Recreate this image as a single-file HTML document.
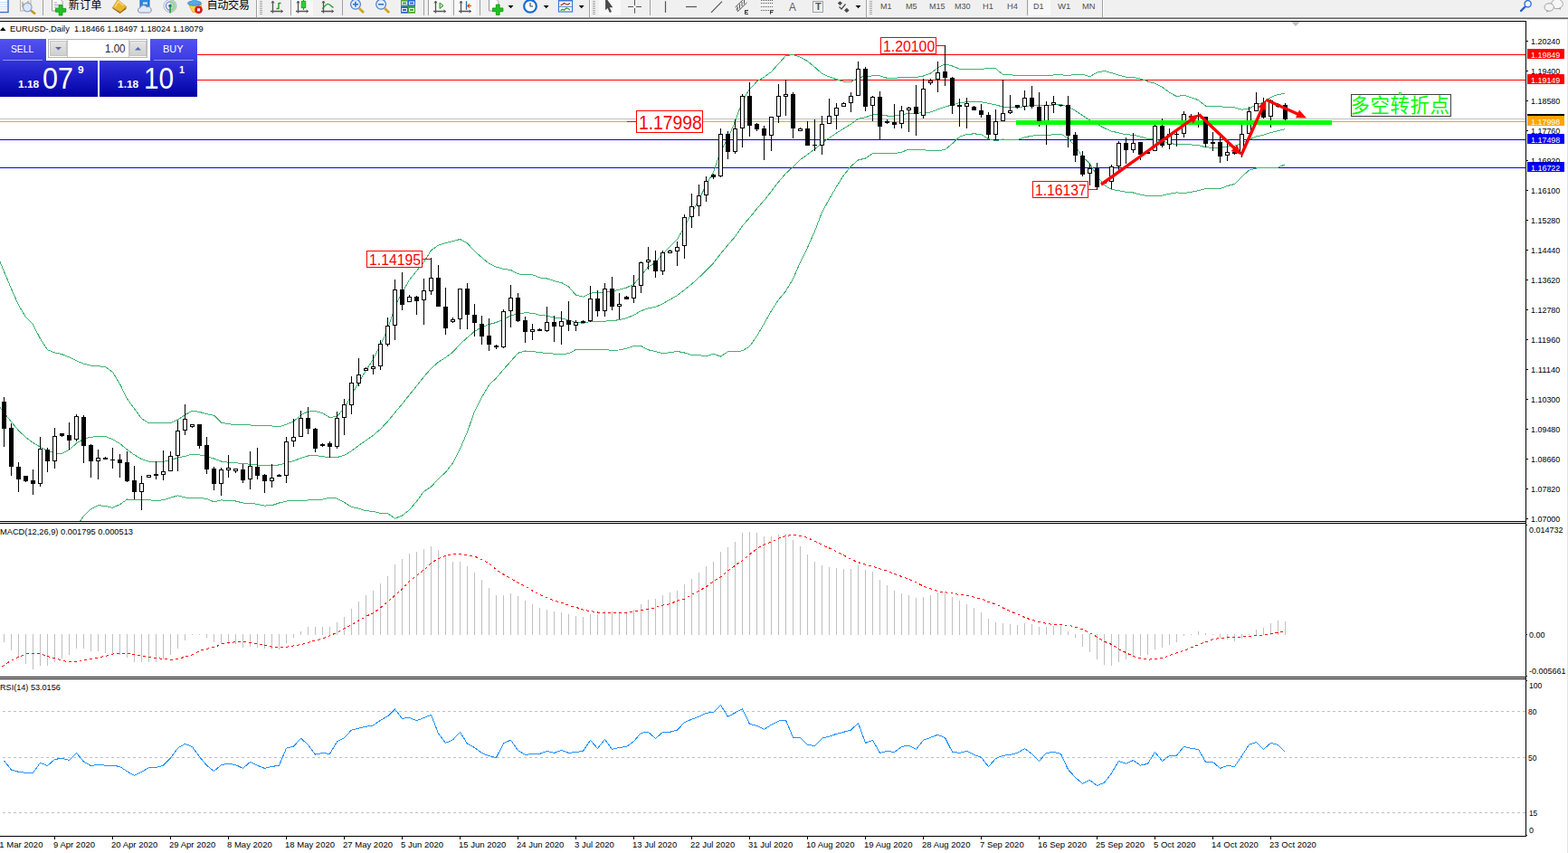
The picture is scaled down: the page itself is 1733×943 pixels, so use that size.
<!DOCTYPE html>
<html><head><meta charset="utf-8"><title>EURUSD Daily</title>
<style>
html,body{margin:0;padding:0;background:#fff}
body{width:1733px;height:943px;overflow:hidden;position:relative;font-family:"Liberation Sans",sans-serif}
svg.main{position:absolute;left:0;top:0}
.t{position:absolute;white-space:nowrap;line-height:1;transform-origin:0 50%;display:inline-block}
.tag{position:absolute;left:1688px;width:41px;height:11px}
.pb{position:absolute;border:1px solid #ff0000;background:#fff}
.cn{position:absolute;height:1px;background:#ff0000}
.tp{position:absolute}
.rb{position:absolute;left:1732px;top:21px;width:1px;height:922px;background:#e3e3e3}
</style></head><body>
<svg class="main" width="1733" height="943" viewBox="0 0 1733 943">
<defs><clipPath id="mainclip"><rect x="0" y="24" width="1686" height="552"/></clipPath></defs>
<g shape-rendering="crispEdges">
<rect x="0" y="60" width="1686" height="1" fill="#ff0000"/>
<rect x="0" y="88" width="1686" height="1" fill="#ff0000"/>
<rect x="0" y="131" width="1686" height="1" fill="#c0c0c0"/>
<rect x="0" y="134" width="1686" height="1" fill="#ffa500"/>
<rect x="0" y="154" width="1686" height="1" fill="#0000ff"/>
<rect x="0" y="185" width="1686" height="1" fill="#0000ff"/>
<g clip-path="url(#mainclip)" shape-rendering="crispEdges">
<polyline points="-3.5,281.1 4.5,300.2 12.5,319.3 20.5,337.4 28.5,350.5 36.5,358.8 44.5,374.5 52.5,386.7 60.5,390.0 68.5,391.6 76.5,394.9 84.5,398.9 92.5,402.1 100.5,404.1 108.5,404.8 116.5,405.4 124.5,411.4 132.5,424.5 140.5,440.9 148.5,451.8 156.5,462.8 164.5,467.7 172.5,467.7 180.5,467.8 188.5,467.5 196.5,464.1 204.5,458.6 212.5,454.2 220.5,455.4 228.5,457.8 236.5,459.2 244.5,467.0 252.5,468.9 260.5,469.2 268.5,469.6 276.5,470.0 284.5,470.6 292.5,470.9 300.5,471.0 308.5,471.9 316.5,469.2 324.5,465.9 332.5,458.8 340.5,455.1 348.5,454.5 356.5,456.7 364.5,461.7 372.5,460.1 380.5,451.4 388.5,436.6 396.5,422.9 404.5,409.2 412.5,397.1 420.5,381.4 428.5,364.2 436.5,339.0 444.5,323.4 452.5,309.4 460.5,299.3 468.5,289.7 476.5,276.7 484.5,271.2 492.5,268.5 500.5,266.6 508.5,264.5 516.5,268.8 524.5,277.7 532.5,284.7 540.5,291.4 548.5,295.1 556.5,297.4 564.5,298.5 572.5,302.8 580.5,303.8 588.5,303.7 596.5,306.9 604.5,308.0 612.5,310.6 620.5,312.5 628.5,317.0 636.5,326.2 644.5,328.1 652.5,324.2 660.5,323.4 668.5,323.4 676.5,322.3 684.5,320.2 692.5,318.0 700.5,314.2 708.5,304.9 716.5,295.0 724.5,290.3 732.5,280.6 740.5,272.6 748.5,264.8 756.5,250.7 764.5,235.6 772.5,220.8 780.5,204.4 788.5,190.4 796.5,166.8 804.5,152.9 812.5,134.3 820.5,111.6 828.5,98.5 836.5,90.1 844.5,85.3 852.5,79.4 860.5,70.5 868.5,61.6 876.5,60.4 884.5,63.3 892.5,67.6 900.5,74.2 908.5,81.5 916.5,84.9 924.5,87.7 932.5,90.3 940.5,90.7 948.5,85.6 956.5,84.4 964.5,83.9 972.5,83.9 980.5,86.3 988.5,86.3 996.5,85.7 1004.5,85.5 1012.5,85.4 1020.5,84.0 1028.5,81.1 1036.5,74.9 1044.5,70.9 1052.5,73.0 1060.5,76.2 1068.5,76.6 1076.5,76.8 1084.5,76.7 1092.5,75.1 1100.5,75.8 1108.5,82.5 1116.5,82.7 1124.5,83.7 1132.5,83.1 1140.5,83.3 1148.5,83.5 1156.5,83.3 1164.5,83.0 1172.5,82.9 1180.5,83.2 1188.5,82.8 1196.5,82.3 1204.5,84.8 1212.5,80.2 1220.5,78.4 1228.5,80.6 1236.5,83.1 1244.5,85.2 1252.5,85.5 1260.5,87.1 1268.5,90.0 1276.5,92.1 1284.5,96.3 1292.5,102.3 1300.5,106.6 1308.5,105.2 1316.5,107.7 1324.5,110.8 1332.5,117.1 1340.5,117.8 1348.5,117.8 1356.5,118.5 1364.5,118.9 1372.5,121.2 1380.5,120.3 1388.5,115.5 1396.5,113.2 1404.5,107.7 1412.5,104.2 1420.5,103.7" fill="none" stroke="#3cb371" stroke-width="1" />
<polyline points="-3.5,446.2 4.5,456.3 12.5,466.4 20.5,476.0 28.5,483.6 36.5,489.4 44.5,494.3 52.5,498.1 60.5,501.0 68.5,501.2 76.5,497.4 84.5,490.1 92.5,485.2 100.5,483.2 108.5,482.5 116.5,482.5 124.5,485.7 132.5,490.5 140.5,497.0 148.5,502.9 156.5,507.6 164.5,510.2 172.5,510.7 180.5,510.3 188.5,508.9 196.5,505.9 204.5,504.3 212.5,502.2 220.5,502.8 228.5,504.6 236.5,507.0 244.5,510.0 252.5,511.2 260.5,511.6 268.5,512.8 276.5,513.1 284.5,514.0 292.5,515.0 300.5,514.8 308.5,513.9 316.5,511.6 324.5,509.6 332.5,506.4 340.5,504.0 348.5,503.6 356.5,504.5 364.5,506.0 372.5,505.6 380.5,503.3 388.5,498.6 396.5,492.5 404.5,486.9 412.5,481.3 420.5,474.4 428.5,465.9 436.5,456.1 444.5,446.7 452.5,436.5 460.5,426.7 468.5,416.5 476.5,407.4 484.5,400.2 492.5,395.3 500.5,389.2 508.5,380.4 516.5,373.2 524.5,366.3 532.5,361.8 540.5,358.5 548.5,356.5 556.5,352.9 564.5,349.1 572.5,346.6 580.5,345.9 588.5,346.1 596.5,348.3 604.5,349.2 612.5,350.9 620.5,352.0 628.5,353.9 636.5,356.4 644.5,357.2 652.5,355.6 660.5,355.1 668.5,355.1 676.5,354.7 684.5,353.6 692.5,351.6 700.5,348.4 708.5,343.7 716.5,340.9 724.5,339.4 732.5,335.7 740.5,331.2 748.5,326.6 756.5,320.4 764.5,314.0 772.5,306.8 780.5,299.0 788.5,290.9 796.5,280.4 804.5,270.9 812.5,261.6 820.5,249.7 828.5,240.7 836.5,230.8 844.5,221.6 852.5,211.5 860.5,201.0 868.5,191.7 876.5,184.4 884.5,176.6 892.5,170.7 900.5,164.9 908.5,158.1 916.5,152.5 924.5,147.1 932.5,142.0 940.5,137.2 948.5,131.3 956.5,129.8 964.5,126.7 972.5,126.6 980.5,128.0 988.5,128.0 996.5,126.9 1004.5,125.3 1012.5,125.2 1020.5,124.8 1028.5,124.0 1036.5,120.9 1044.5,118.1 1052.5,115.9 1060.5,113.7 1068.5,112.6 1076.5,112.3 1084.5,112.7 1092.5,114.4 1100.5,115.8 1108.5,118.2 1116.5,118.5 1124.5,119.1 1132.5,117.5 1140.5,116.7 1148.5,116.5 1156.5,116.2 1164.5,116.0 1172.5,115.5 1180.5,118.1 1188.5,122.2 1196.5,127.8 1204.5,132.8 1212.5,137.3 1220.5,141.6 1228.5,145.1 1236.5,146.9 1244.5,148.8 1252.5,149.2 1260.5,151.1 1268.5,153.3 1276.5,154.1 1284.5,156.2 1292.5,158.2 1300.5,159.8 1308.5,159.3 1316.5,160.0 1324.5,160.7 1332.5,162.8 1340.5,163.3 1348.5,163.3 1356.5,162.0 1364.5,161.2 1372.5,158.2 1380.5,154.3 1388.5,150.8 1396.5,149.3 1404.5,146.6 1412.5,144.7 1420.5,142.7" fill="none" stroke="#3cb371" stroke-width="1" />
<polyline points="84.5,582.0 92.5,570.5 100.5,562.7 108.5,558.7 116.5,559.4 124.5,561.3 132.5,557.7 140.5,552.0 148.5,552.7 156.5,552.4 164.5,552.7 172.5,553.7 180.5,552.7 188.5,550.2 196.5,547.8 204.5,550.0 212.5,550.3 220.5,550.2 228.5,551.5 236.5,554.8 244.5,552.9 252.5,553.5 260.5,554.0 268.5,556.0 276.5,556.3 284.5,557.4 292.5,559.1 300.5,558.7 308.5,556.0 316.5,554.1 324.5,553.2 332.5,553.9 340.5,553.0 348.5,552.7 356.5,552.2 364.5,550.2 372.5,551.1 380.5,555.3 388.5,560.5 396.5,562.2 404.5,564.7 412.5,565.5 420.5,567.4 428.5,567.5 436.5,573.2 444.5,570.0 452.5,563.7 460.5,554.2 468.5,543.2 476.5,538.2 484.5,529.3 492.5,522.1 500.5,511.8 508.5,496.3 516.5,477.5 524.5,455.0 532.5,438.9 540.5,425.6 548.5,417.9 556.5,408.5 564.5,399.6 572.5,390.3 580.5,388.0 588.5,388.4 596.5,389.7 604.5,390.4 612.5,391.2 620.5,391.5 628.5,390.8 636.5,386.5 644.5,386.4 652.5,387.0 660.5,386.9 668.5,386.9 676.5,387.1 684.5,387.0 692.5,385.2 700.5,382.6 708.5,382.5 716.5,386.8 724.5,388.5 732.5,390.7 740.5,389.7 748.5,388.4 756.5,390.0 764.5,392.4 772.5,392.7 780.5,393.7 788.5,391.3 796.5,394.0 804.5,388.9 812.5,388.8 820.5,387.8 828.5,382.9 836.5,371.6 844.5,357.8 852.5,343.6 860.5,331.4 868.5,321.8 876.5,308.4 884.5,289.8 892.5,273.7 900.5,255.6 908.5,234.7 916.5,220.1 924.5,206.4 932.5,193.7 940.5,183.8 948.5,176.9 956.5,175.1 964.5,169.6 972.5,169.3 980.5,169.8 988.5,169.7 996.5,168.1 1004.5,165.2 1012.5,165.1 1020.5,165.6 1028.5,166.9 1036.5,166.9 1044.5,165.3 1052.5,158.8 1060.5,151.3 1068.5,148.6 1076.5,147.8 1084.5,148.6 1092.5,153.7 1100.5,155.7 1108.5,154.0 1116.5,154.3 1124.5,154.5 1132.5,151.9 1140.5,150.1 1148.5,149.5 1156.5,149.2 1164.5,148.9 1172.5,148.1 1180.5,152.9 1188.5,161.7 1196.5,173.4 1204.5,180.8 1212.5,194.5 1220.5,204.7 1228.5,209.5 1236.5,210.7 1244.5,212.4 1252.5,213.0 1260.5,215.1 1268.5,216.6 1276.5,216.2 1284.5,216.2 1292.5,214.2 1300.5,212.9 1308.5,213.5 1316.5,212.3 1324.5,210.7 1332.5,208.6 1340.5,208.7 1348.5,208.7 1356.5,205.5 1364.5,203.5 1372.5,195.3 1380.5,188.2 1388.5,186.0 1396.5,185.5 1404.5,185.6 1412.5,185.1 1420.5,181.7" fill="none" stroke="#3cb371" stroke-width="1" />
</g>
<rect x="4" y="439" width="1" height="55" fill="#000"/>
<rect x="2" y="444" width="5" height="30" fill="#000"/>
<rect x="12" y="468" width="1" height="58" fill="#000"/>
<rect x="10" y="473" width="5" height="43" fill="#000"/>
<rect x="20" y="511" width="1" height="33" fill="#000"/>
<rect x="18" y="516" width="5" height="14" fill="#000"/>
<rect x="28" y="526" width="1" height="7" fill="#000"/>
<rect x="26" y="526" width="5" height="6" fill="#000"/>
<rect x="36" y="519" width="1" height="28" fill="#000"/>
<rect x="34" y="531" width="5" height="4" fill="#000"/>
<rect x="44" y="483" width="1" height="55" fill="#000"/>
<rect x="42" y="496" width="5" height="39" fill="#000"/>
<rect x="43" y="497" width="3" height="37" fill="#fff"/>
<rect x="52" y="495" width="1" height="27" fill="#000"/>
<rect x="50" y="497" width="5" height="13" fill="#000"/>
<rect x="60" y="473" width="1" height="45" fill="#000"/>
<rect x="58" y="482" width="5" height="28" fill="#000"/>
<rect x="59" y="483" width="3" height="26" fill="#fff"/>
<rect x="68" y="479" width="1" height="4" fill="#000"/>
<rect x="66" y="479" width="5" height="3" fill="#000"/>
<rect x="76" y="467" width="1" height="30" fill="#000"/>
<rect x="74" y="481" width="5" height="6" fill="#000"/>
<rect x="84" y="458" width="1" height="30" fill="#000"/>
<rect x="82" y="460" width="5" height="26" fill="#000"/>
<rect x="83" y="461" width="3" height="24" fill="#fff"/>
<rect x="92" y="459" width="1" height="53" fill="#000"/>
<rect x="90" y="461" width="5" height="32" fill="#000"/>
<rect x="100" y="491" width="1" height="37" fill="#000"/>
<rect x="98" y="492" width="5" height="18" fill="#000"/>
<rect x="108" y="497" width="1" height="33" fill="#000"/>
<rect x="106" y="506" width="5" height="4" fill="#000"/>
<rect x="107" y="507" width="3" height="2" fill="#fff"/>
<rect x="116" y="505" width="1" height="3" fill="#000"/>
<rect x="114" y="506" width="5" height="2" fill="#000"/>
<rect x="124" y="495" width="1" height="23" fill="#000"/>
<rect x="122" y="508" width="5" height="1" fill="#000"/>
<rect x="132" y="502" width="1" height="26" fill="#000"/>
<rect x="130" y="508" width="5" height="4" fill="#000"/>
<rect x="140" y="499" width="1" height="34" fill="#000"/>
<rect x="138" y="511" width="5" height="21" fill="#000"/>
<rect x="148" y="515" width="1" height="37" fill="#000"/>
<rect x="146" y="531" width="5" height="13" fill="#000"/>
<rect x="156" y="526" width="1" height="38" fill="#000"/>
<rect x="154" y="534" width="5" height="10" fill="#000"/>
<rect x="155" y="535" width="3" height="8" fill="#fff"/>
<rect x="164" y="525" width="1" height="3" fill="#000"/>
<rect x="162" y="525" width="5" height="3" fill="#000"/>
<rect x="163" y="526" width="3" height="1" fill="#fff"/>
<rect x="172" y="510" width="1" height="20" fill="#000"/>
<rect x="170" y="524" width="5" height="2" fill="#000"/>
<rect x="180" y="498" width="1" height="33" fill="#000"/>
<rect x="178" y="521" width="5" height="4" fill="#000"/>
<rect x="179" y="522" width="3" height="2" fill="#fff"/>
<rect x="188" y="499" width="1" height="22" fill="#000"/>
<rect x="186" y="504" width="5" height="17" fill="#000"/>
<rect x="187" y="505" width="3" height="15" fill="#fff"/>
<rect x="196" y="465" width="1" height="56" fill="#000"/>
<rect x="194" y="476" width="5" height="28" fill="#000"/>
<rect x="195" y="477" width="3" height="26" fill="#fff"/>
<rect x="204" y="447" width="1" height="34" fill="#000"/>
<rect x="202" y="463" width="5" height="13" fill="#000"/>
<rect x="203" y="464" width="3" height="11" fill="#fff"/>
<rect x="212" y="469" width="1" height="4" fill="#000"/>
<rect x="210" y="469" width="5" height="3" fill="#000"/>
<rect x="211" y="470" width="3" height="1" fill="#fff"/>
<rect x="220" y="469" width="1" height="27" fill="#000"/>
<rect x="218" y="469" width="5" height="24" fill="#000"/>
<rect x="228" y="483" width="1" height="41" fill="#000"/>
<rect x="226" y="492" width="5" height="27" fill="#000"/>
<rect x="236" y="516" width="1" height="26" fill="#000"/>
<rect x="234" y="518" width="5" height="17" fill="#000"/>
<rect x="244" y="517" width="1" height="31" fill="#000"/>
<rect x="242" y="519" width="5" height="16" fill="#000"/>
<rect x="243" y="520" width="3" height="14" fill="#fff"/>
<rect x="252" y="503" width="1" height="25" fill="#000"/>
<rect x="250" y="517" width="5" height="3" fill="#000"/>
<rect x="251" y="518" width="3" height="1" fill="#fff"/>
<rect x="260" y="518" width="1" height="5" fill="#000"/>
<rect x="258" y="518" width="5" height="3" fill="#000"/>
<rect x="259" y="519" width="3" height="1" fill="#fff"/>
<rect x="268" y="513" width="1" height="21" fill="#000"/>
<rect x="266" y="519" width="5" height="12" fill="#000"/>
<rect x="276" y="499" width="1" height="42" fill="#000"/>
<rect x="274" y="515" width="5" height="15" fill="#000"/>
<rect x="275" y="516" width="3" height="13" fill="#fff"/>
<rect x="284" y="495" width="1" height="35" fill="#000"/>
<rect x="282" y="516" width="5" height="10" fill="#000"/>
<rect x="292" y="524" width="1" height="21" fill="#000"/>
<rect x="290" y="525" width="5" height="7" fill="#000"/>
<rect x="300" y="513" width="1" height="26" fill="#000"/>
<rect x="298" y="528" width="5" height="4" fill="#000"/>
<rect x="299" y="529" width="3" height="2" fill="#fff"/>
<rect x="308" y="524" width="1" height="3" fill="#000"/>
<rect x="306" y="525" width="5" height="2" fill="#000"/>
<rect x="316" y="483" width="1" height="51" fill="#000"/>
<rect x="314" y="488" width="5" height="38" fill="#000"/>
<rect x="315" y="489" width="3" height="36" fill="#fff"/>
<rect x="324" y="463" width="1" height="31" fill="#000"/>
<rect x="322" y="483" width="5" height="5" fill="#000"/>
<rect x="323" y="484" width="3" height="3" fill="#fff"/>
<rect x="332" y="454" width="1" height="29" fill="#000"/>
<rect x="330" y="462" width="5" height="21" fill="#000"/>
<rect x="331" y="463" width="3" height="19" fill="#fff"/>
<rect x="340" y="450" width="1" height="30" fill="#000"/>
<rect x="338" y="462" width="5" height="12" fill="#000"/>
<rect x="348" y="473" width="1" height="27" fill="#000"/>
<rect x="346" y="474" width="5" height="22" fill="#000"/>
<rect x="356" y="490" width="1" height="4" fill="#000"/>
<rect x="354" y="491" width="5" height="2" fill="#000"/>
<rect x="364" y="488" width="1" height="18" fill="#000"/>
<rect x="362" y="490" width="5" height="4" fill="#000"/>
<rect x="372" y="455" width="1" height="41" fill="#000"/>
<rect x="370" y="462" width="5" height="32" fill="#000"/>
<rect x="371" y="463" width="3" height="30" fill="#fff"/>
<rect x="380" y="441" width="1" height="40" fill="#000"/>
<rect x="378" y="447" width="5" height="15" fill="#000"/>
<rect x="379" y="448" width="3" height="13" fill="#fff"/>
<rect x="388" y="416" width="1" height="42" fill="#000"/>
<rect x="386" y="423" width="5" height="25" fill="#000"/>
<rect x="387" y="424" width="3" height="23" fill="#fff"/>
<rect x="396" y="396" width="1" height="31" fill="#000"/>
<rect x="394" y="414" width="5" height="10" fill="#000"/>
<rect x="395" y="415" width="3" height="8" fill="#fff"/>
<rect x="404" y="406" width="1" height="4" fill="#000"/>
<rect x="402" y="407" width="5" height="3" fill="#000"/>
<rect x="403" y="408" width="3" height="1" fill="#fff"/>
<rect x="412" y="392" width="1" height="22" fill="#000"/>
<rect x="410" y="405" width="5" height="3" fill="#000"/>
<rect x="411" y="406" width="3" height="1" fill="#fff"/>
<rect x="420" y="376" width="1" height="33" fill="#000"/>
<rect x="418" y="380" width="5" height="25" fill="#000"/>
<rect x="419" y="381" width="3" height="23" fill="#fff"/>
<rect x="428" y="351" width="1" height="32" fill="#000"/>
<rect x="426" y="360" width="5" height="21" fill="#000"/>
<rect x="427" y="361" width="3" height="19" fill="#fff"/>
<rect x="436" y="309" width="1" height="67" fill="#000"/>
<rect x="434" y="320" width="5" height="40" fill="#000"/>
<rect x="435" y="321" width="3" height="38" fill="#fff"/>
<rect x="444" y="301" width="1" height="42" fill="#000"/>
<rect x="442" y="320" width="5" height="17" fill="#000"/>
<rect x="452" y="326" width="1" height="8" fill="#000"/>
<rect x="450" y="328" width="5" height="6" fill="#000"/>
<rect x="451" y="329" width="3" height="4" fill="#fff"/>
<rect x="460" y="327" width="1" height="21" fill="#000"/>
<rect x="458" y="328" width="5" height="5" fill="#000"/>
<rect x="468" y="308" width="1" height="51" fill="#000"/>
<rect x="466" y="321" width="5" height="11" fill="#000"/>
<rect x="467" y="322" width="3" height="9" fill="#fff"/>
<rect x="476" y="285" width="1" height="41" fill="#000"/>
<rect x="474" y="307" width="5" height="15" fill="#000"/>
<rect x="475" y="308" width="3" height="13" fill="#fff"/>
<rect x="484" y="293" width="1" height="46" fill="#000"/>
<rect x="482" y="307" width="5" height="32" fill="#000"/>
<rect x="492" y="318" width="1" height="52" fill="#000"/>
<rect x="490" y="339" width="5" height="24" fill="#000"/>
<rect x="500" y="351" width="1" height="6" fill="#000"/>
<rect x="498" y="353" width="5" height="3" fill="#000"/>
<rect x="499" y="354" width="3" height="1" fill="#fff"/>
<rect x="508" y="319" width="1" height="45" fill="#000"/>
<rect x="506" y="319" width="5" height="34" fill="#000"/>
<rect x="507" y="320" width="3" height="32" fill="#fff"/>
<rect x="516" y="313" width="1" height="51" fill="#000"/>
<rect x="514" y="319" width="5" height="29" fill="#000"/>
<rect x="524" y="336" width="1" height="36" fill="#000"/>
<rect x="522" y="348" width="5" height="9" fill="#000"/>
<rect x="532" y="349" width="1" height="32" fill="#000"/>
<rect x="530" y="358" width="5" height="14" fill="#000"/>
<rect x="540" y="352" width="1" height="36" fill="#000"/>
<rect x="538" y="371" width="5" height="10" fill="#000"/>
<rect x="548" y="381" width="1" height="5" fill="#000"/>
<rect x="546" y="382" width="5" height="2" fill="#000"/>
<rect x="556" y="342" width="1" height="43" fill="#000"/>
<rect x="554" y="344" width="5" height="40" fill="#000"/>
<rect x="555" y="345" width="3" height="38" fill="#fff"/>
<rect x="564" y="315" width="1" height="47" fill="#000"/>
<rect x="562" y="329" width="5" height="15" fill="#000"/>
<rect x="563" y="330" width="3" height="13" fill="#fff"/>
<rect x="572" y="324" width="1" height="32" fill="#000"/>
<rect x="570" y="329" width="5" height="26" fill="#000"/>
<rect x="580" y="350" width="1" height="29" fill="#000"/>
<rect x="578" y="354" width="5" height="13" fill="#000"/>
<rect x="588" y="358" width="1" height="18" fill="#000"/>
<rect x="586" y="364" width="5" height="3" fill="#000"/>
<rect x="587" y="365" width="3" height="1" fill="#fff"/>
<rect x="596" y="363" width="1" height="3" fill="#000"/>
<rect x="594" y="364" width="5" height="2" fill="#000"/>
<rect x="604" y="339" width="1" height="28" fill="#000"/>
<rect x="602" y="356" width="5" height="10" fill="#000"/>
<rect x="603" y="357" width="3" height="8" fill="#fff"/>
<rect x="612" y="349" width="1" height="29" fill="#000"/>
<rect x="610" y="356" width="5" height="5" fill="#000"/>
<rect x="620" y="344" width="1" height="37" fill="#000"/>
<rect x="618" y="355" width="5" height="6" fill="#000"/>
<rect x="619" y="356" width="3" height="4" fill="#fff"/>
<rect x="628" y="333" width="1" height="33" fill="#000"/>
<rect x="626" y="354" width="5" height="5" fill="#000"/>
<rect x="636" y="354" width="1" height="12" fill="#000"/>
<rect x="634" y="356" width="5" height="4" fill="#000"/>
<rect x="635" y="357" width="3" height="2" fill="#fff"/>
<rect x="644" y="354" width="1" height="3" fill="#000"/>
<rect x="642" y="355" width="5" height="2" fill="#000"/>
<rect x="652" y="316" width="1" height="40" fill="#000"/>
<rect x="650" y="330" width="5" height="25" fill="#000"/>
<rect x="651" y="331" width="3" height="23" fill="#fff"/>
<rect x="660" y="321" width="1" height="29" fill="#000"/>
<rect x="658" y="330" width="5" height="14" fill="#000"/>
<rect x="668" y="313" width="1" height="37" fill="#000"/>
<rect x="666" y="319" width="5" height="25" fill="#000"/>
<rect x="667" y="320" width="3" height="23" fill="#fff"/>
<rect x="676" y="306" width="1" height="37" fill="#000"/>
<rect x="674" y="319" width="5" height="20" fill="#000"/>
<rect x="684" y="324" width="1" height="29" fill="#000"/>
<rect x="682" y="336" width="5" height="3" fill="#000"/>
<rect x="683" y="337" width="3" height="1" fill="#fff"/>
<rect x="692" y="327" width="1" height="4" fill="#000"/>
<rect x="690" y="328" width="5" height="3" fill="#000"/>
<rect x="700" y="304" width="1" height="31" fill="#000"/>
<rect x="698" y="316" width="5" height="14" fill="#000"/>
<rect x="699" y="317" width="3" height="12" fill="#fff"/>
<rect x="708" y="289" width="1" height="35" fill="#000"/>
<rect x="706" y="290" width="5" height="26" fill="#000"/>
<rect x="707" y="291" width="3" height="24" fill="#fff"/>
<rect x="716" y="273" width="1" height="25" fill="#000"/>
<rect x="714" y="287" width="5" height="3" fill="#000"/>
<rect x="715" y="288" width="3" height="1" fill="#fff"/>
<rect x="724" y="277" width="1" height="30" fill="#000"/>
<rect x="722" y="288" width="5" height="12" fill="#000"/>
<rect x="732" y="277" width="1" height="27" fill="#000"/>
<rect x="730" y="279" width="5" height="21" fill="#000"/>
<rect x="731" y="280" width="3" height="19" fill="#fff"/>
<rect x="740" y="276" width="1" height="4" fill="#000"/>
<rect x="738" y="277" width="5" height="3" fill="#000"/>
<rect x="739" y="278" width="3" height="1" fill="#fff"/>
<rect x="748" y="267" width="1" height="27" fill="#000"/>
<rect x="746" y="273" width="5" height="5" fill="#000"/>
<rect x="747" y="274" width="3" height="3" fill="#fff"/>
<rect x="756" y="237" width="1" height="49" fill="#000"/>
<rect x="754" y="240" width="5" height="32" fill="#000"/>
<rect x="755" y="241" width="3" height="30" fill="#fff"/>
<rect x="764" y="214" width="1" height="38" fill="#000"/>
<rect x="762" y="228" width="5" height="12" fill="#000"/>
<rect x="763" y="229" width="3" height="10" fill="#fff"/>
<rect x="772" y="204" width="1" height="35" fill="#000"/>
<rect x="770" y="216" width="5" height="12" fill="#000"/>
<rect x="771" y="217" width="3" height="10" fill="#fff"/>
<rect x="780" y="195" width="1" height="28" fill="#000"/>
<rect x="778" y="200" width="5" height="16" fill="#000"/>
<rect x="779" y="201" width="3" height="14" fill="#fff"/>
<rect x="788" y="192" width="1" height="6" fill="#000"/>
<rect x="786" y="193" width="5" height="3" fill="#000"/>
<rect x="796" y="142" width="1" height="54" fill="#000"/>
<rect x="794" y="148" width="5" height="47" fill="#000"/>
<rect x="795" y="149" width="3" height="45" fill="#fff"/>
<rect x="804" y="145" width="1" height="31" fill="#000"/>
<rect x="802" y="148" width="5" height="20" fill="#000"/>
<rect x="812" y="132" width="1" height="38" fill="#000"/>
<rect x="810" y="142" width="5" height="26" fill="#000"/>
<rect x="811" y="143" width="3" height="24" fill="#fff"/>
<rect x="820" y="104" width="1" height="59" fill="#000"/>
<rect x="818" y="106" width="5" height="36" fill="#000"/>
<rect x="819" y="107" width="3" height="34" fill="#fff"/>
<rect x="828" y="91" width="1" height="60" fill="#000"/>
<rect x="826" y="106" width="5" height="33" fill="#000"/>
<rect x="836" y="136" width="1" height="9" fill="#000"/>
<rect x="834" y="137" width="5" height="6" fill="#000"/>
<rect x="844" y="139" width="1" height="38" fill="#000"/>
<rect x="842" y="142" width="5" height="8" fill="#000"/>
<rect x="852" y="129" width="1" height="38" fill="#000"/>
<rect x="850" y="129" width="5" height="21" fill="#000"/>
<rect x="851" y="130" width="3" height="19" fill="#fff"/>
<rect x="860" y="93" width="1" height="43" fill="#000"/>
<rect x="858" y="106" width="5" height="23" fill="#000"/>
<rect x="859" y="107" width="3" height="21" fill="#fff"/>
<rect x="868" y="88" width="1" height="40" fill="#000"/>
<rect x="866" y="104" width="5" height="3" fill="#000"/>
<rect x="867" y="105" width="3" height="1" fill="#fff"/>
<rect x="876" y="102" width="1" height="51" fill="#000"/>
<rect x="874" y="104" width="5" height="38" fill="#000"/>
<rect x="884" y="141" width="1" height="4" fill="#000"/>
<rect x="882" y="142" width="5" height="3" fill="#000"/>
<rect x="883" y="143" width="3" height="1" fill="#fff"/>
<rect x="892" y="134" width="1" height="27" fill="#000"/>
<rect x="890" y="142" width="5" height="19" fill="#000"/>
<rect x="900" y="132" width="1" height="35" fill="#000"/>
<rect x="898" y="160" width="5" height="1" fill="#000"/>
<rect x="908" y="128" width="1" height="43" fill="#000"/>
<rect x="906" y="137" width="5" height="24" fill="#000"/>
<rect x="907" y="138" width="3" height="22" fill="#fff"/>
<rect x="916" y="109" width="1" height="28" fill="#000"/>
<rect x="914" y="128" width="5" height="9" fill="#000"/>
<rect x="915" y="129" width="3" height="7" fill="#fff"/>
<rect x="924" y="114" width="1" height="29" fill="#000"/>
<rect x="922" y="119" width="5" height="9" fill="#000"/>
<rect x="923" y="120" width="3" height="7" fill="#fff"/>
<rect x="932" y="113" width="1" height="5" fill="#000"/>
<rect x="930" y="114" width="5" height="4" fill="#000"/>
<rect x="931" y="115" width="3" height="2" fill="#fff"/>
<rect x="940" y="102" width="1" height="22" fill="#000"/>
<rect x="938" y="106" width="5" height="8" fill="#000"/>
<rect x="939" y="107" width="3" height="6" fill="#fff"/>
<rect x="948" y="68" width="1" height="38" fill="#000"/>
<rect x="946" y="76" width="5" height="30" fill="#000"/>
<rect x="947" y="77" width="3" height="28" fill="#fff"/>
<rect x="956" y="74" width="1" height="49" fill="#000"/>
<rect x="954" y="76" width="5" height="42" fill="#000"/>
<rect x="964" y="106" width="1" height="28" fill="#000"/>
<rect x="962" y="107" width="5" height="10" fill="#000"/>
<rect x="963" y="108" width="3" height="8" fill="#fff"/>
<rect x="972" y="101" width="1" height="53" fill="#000"/>
<rect x="970" y="107" width="5" height="33" fill="#000"/>
<rect x="980" y="132" width="1" height="5" fill="#000"/>
<rect x="978" y="134" width="5" height="2" fill="#000"/>
<rect x="988" y="115" width="1" height="27" fill="#000"/>
<rect x="986" y="135" width="5" height="3" fill="#000"/>
<rect x="996" y="117" width="1" height="25" fill="#000"/>
<rect x="994" y="122" width="5" height="15" fill="#000"/>
<rect x="995" y="123" width="3" height="13" fill="#fff"/>
<rect x="1004" y="118" width="1" height="28" fill="#000"/>
<rect x="1002" y="119" width="5" height="3" fill="#000"/>
<rect x="1003" y="120" width="3" height="1" fill="#fff"/>
<rect x="1012" y="94" width="1" height="56" fill="#000"/>
<rect x="1010" y="118" width="5" height="8" fill="#000"/>
<rect x="1020" y="87" width="1" height="44" fill="#000"/>
<rect x="1018" y="98" width="5" height="30" fill="#000"/>
<rect x="1019" y="99" width="3" height="28" fill="#fff"/>
<rect x="1028" y="87" width="1" height="7" fill="#000"/>
<rect x="1026" y="89" width="5" height="3" fill="#000"/>
<rect x="1027" y="90" width="3" height="1" fill="#fff"/>
<rect x="1036" y="68" width="1" height="34" fill="#000"/>
<rect x="1034" y="80" width="5" height="8" fill="#000"/>
<rect x="1035" y="81" width="3" height="6" fill="#fff"/>
<rect x="1044" y="50" width="1" height="45" fill="#000"/>
<rect x="1042" y="79" width="5" height="7" fill="#000"/>
<rect x="1052" y="85" width="1" height="41" fill="#000"/>
<rect x="1050" y="86" width="5" height="31" fill="#000"/>
<rect x="1060" y="109" width="1" height="31" fill="#000"/>
<rect x="1058" y="116" width="5" height="2" fill="#000"/>
<rect x="1068" y="108" width="1" height="34" fill="#000"/>
<rect x="1066" y="114" width="5" height="4" fill="#000"/>
<rect x="1067" y="115" width="3" height="2" fill="#fff"/>
<rect x="1076" y="117" width="1" height="5" fill="#000"/>
<rect x="1074" y="118" width="5" height="4" fill="#000"/>
<rect x="1084" y="115" width="1" height="15" fill="#000"/>
<rect x="1082" y="122" width="5" height="5" fill="#000"/>
<rect x="1092" y="124" width="1" height="29" fill="#000"/>
<rect x="1090" y="127" width="5" height="22" fill="#000"/>
<rect x="1100" y="121" width="1" height="34" fill="#000"/>
<rect x="1098" y="134" width="5" height="15" fill="#000"/>
<rect x="1099" y="135" width="3" height="13" fill="#fff"/>
<rect x="1108" y="88" width="1" height="46" fill="#000"/>
<rect x="1106" y="125" width="5" height="9" fill="#000"/>
<rect x="1107" y="126" width="3" height="7" fill="#fff"/>
<rect x="1116" y="105" width="1" height="21" fill="#000"/>
<rect x="1114" y="122" width="5" height="3" fill="#000"/>
<rect x="1115" y="123" width="3" height="1" fill="#fff"/>
<rect x="1124" y="116" width="1" height="4" fill="#000"/>
<rect x="1122" y="116" width="5" height="3" fill="#000"/>
<rect x="1132" y="100" width="1" height="22" fill="#000"/>
<rect x="1130" y="108" width="5" height="10" fill="#000"/>
<rect x="1131" y="109" width="3" height="8" fill="#fff"/>
<rect x="1140" y="95" width="1" height="25" fill="#000"/>
<rect x="1138" y="108" width="5" height="10" fill="#000"/>
<rect x="1148" y="102" width="1" height="38" fill="#000"/>
<rect x="1146" y="118" width="5" height="16" fill="#000"/>
<rect x="1156" y="112" width="1" height="48" fill="#000"/>
<rect x="1154" y="116" width="5" height="18" fill="#000"/>
<rect x="1155" y="117" width="3" height="16" fill="#fff"/>
<rect x="1164" y="106" width="1" height="19" fill="#000"/>
<rect x="1162" y="113" width="5" height="3" fill="#000"/>
<rect x="1163" y="114" width="3" height="1" fill="#fff"/>
<rect x="1172" y="116" width="1" height="2" fill="#000"/>
<rect x="1170" y="116" width="5" height="1" fill="#000"/>
<rect x="1180" y="106" width="1" height="57" fill="#000"/>
<rect x="1178" y="116" width="5" height="34" fill="#000"/>
<rect x="1188" y="146" width="1" height="33" fill="#000"/>
<rect x="1186" y="149" width="5" height="23" fill="#000"/>
<rect x="1196" y="167" width="1" height="28" fill="#000"/>
<rect x="1194" y="172" width="5" height="21" fill="#000"/>
<rect x="1204" y="181" width="1" height="24" fill="#000"/>
<rect x="1202" y="186" width="5" height="6" fill="#000"/>
<rect x="1203" y="187" width="3" height="4" fill="#fff"/>
<rect x="1212" y="180" width="1" height="30" fill="#000"/>
<rect x="1210" y="186" width="5" height="21" fill="#000"/>
<rect x="1220" y="201" width="1" height="2" fill="#000"/>
<rect x="1218" y="201" width="5" height="2" fill="#000"/>
<rect x="1228" y="182" width="1" height="27" fill="#000"/>
<rect x="1226" y="184" width="5" height="17" fill="#000"/>
<rect x="1227" y="185" width="3" height="15" fill="#fff"/>
<rect x="1236" y="156" width="1" height="32" fill="#000"/>
<rect x="1234" y="158" width="5" height="26" fill="#000"/>
<rect x="1235" y="159" width="3" height="24" fill="#fff"/>
<rect x="1244" y="152" width="1" height="29" fill="#000"/>
<rect x="1242" y="158" width="5" height="8" fill="#000"/>
<rect x="1252" y="147" width="1" height="22" fill="#000"/>
<rect x="1250" y="158" width="5" height="8" fill="#000"/>
<rect x="1251" y="159" width="3" height="6" fill="#fff"/>
<rect x="1260" y="157" width="1" height="20" fill="#000"/>
<rect x="1258" y="157" width="5" height="14" fill="#000"/>
<rect x="1268" y="167" width="1" height="3" fill="#000"/>
<rect x="1266" y="168" width="5" height="2" fill="#000"/>
<rect x="1276" y="138" width="1" height="29" fill="#000"/>
<rect x="1274" y="139" width="5" height="28" fill="#000"/>
<rect x="1275" y="140" width="3" height="26" fill="#fff"/>
<rect x="1284" y="131" width="1" height="32" fill="#000"/>
<rect x="1282" y="139" width="5" height="22" fill="#000"/>
<rect x="1292" y="142" width="1" height="23" fill="#000"/>
<rect x="1290" y="148" width="5" height="12" fill="#000"/>
<rect x="1291" y="149" width="3" height="10" fill="#fff"/>
<rect x="1300" y="143" width="1" height="19" fill="#000"/>
<rect x="1298" y="148" width="5" height="1" fill="#000"/>
<rect x="1308" y="123" width="1" height="29" fill="#000"/>
<rect x="1306" y="126" width="5" height="22" fill="#000"/>
<rect x="1307" y="127" width="3" height="20" fill="#fff"/>
<rect x="1316" y="126" width="1" height="5" fill="#000"/>
<rect x="1314" y="128" width="5" height="2" fill="#000"/>
<rect x="1324" y="124" width="1" height="17" fill="#000"/>
<rect x="1322" y="128" width="5" height="1" fill="#000"/>
<rect x="1332" y="129" width="1" height="34" fill="#000"/>
<rect x="1330" y="129" width="5" height="30" fill="#000"/>
<rect x="1340" y="146" width="1" height="21" fill="#000"/>
<rect x="1338" y="157" width="5" height="2" fill="#000"/>
<rect x="1348" y="151" width="1" height="29" fill="#000"/>
<rect x="1346" y="157" width="5" height="16" fill="#000"/>
<rect x="1356" y="156" width="1" height="22" fill="#000"/>
<rect x="1354" y="168" width="5" height="4" fill="#000"/>
<rect x="1355" y="169" width="3" height="2" fill="#fff"/>
<rect x="1364" y="168" width="1" height="3" fill="#000"/>
<rect x="1362" y="168" width="5" height="2" fill="#000"/>
<rect x="1372" y="138" width="1" height="36" fill="#000"/>
<rect x="1370" y="148" width="5" height="21" fill="#000"/>
<rect x="1371" y="149" width="3" height="19" fill="#fff"/>
<rect x="1380" y="118" width="1" height="30" fill="#000"/>
<rect x="1378" y="123" width="5" height="25" fill="#000"/>
<rect x="1379" y="124" width="3" height="23" fill="#fff"/>
<rect x="1388" y="102" width="1" height="21" fill="#000"/>
<rect x="1386" y="114" width="5" height="9" fill="#000"/>
<rect x="1387" y="115" width="3" height="7" fill="#fff"/>
<rect x="1396" y="108" width="1" height="23" fill="#000"/>
<rect x="1394" y="114" width="5" height="16" fill="#000"/>
<rect x="1404" y="110" width="1" height="31" fill="#000"/>
<rect x="1402" y="111" width="5" height="18" fill="#000"/>
<rect x="1403" y="112" width="3" height="16" fill="#fff"/>
<rect x="1412" y="114" width="1" height="5" fill="#000"/>
<rect x="1410" y="115" width="5" height="3" fill="#000"/>
<rect x="1420" y="114" width="1" height="19" fill="#000"/>
<rect x="1418" y="116" width="5" height="16" fill="#000"/>
<rect x="1123" y="133" width="349" height="5" fill="#00ff00"/>
<rect x="1146" y="133" width="5" height="1" fill="#000"/>
<rect x="1178" y="133" width="5" height="5" fill="#000"/>
<rect x="1330" y="133" width="5" height="5" fill="#000"/>
</g>
<g>
<line x1="1217.0" y1="204.0" x2="1317.7" y2="131.7" stroke="#ff0000" stroke-width="3.4"/><polygon points="1325.0,126.4 1318.9,136.7 1313.3,128.9" fill="#ff0000"/>
<line x1="1325.0" y1="126.4" x2="1365.5" y2="165.0" stroke="#ff0000" stroke-width="3.4"/><polygon points="1372.0,171.2 1360.7,167.1 1367.3,160.1" fill="#ff0000"/>
<line x1="1372.0" y1="171.2" x2="1395.6" y2="118.4" stroke="#ff0000" stroke-width="3.4"/><polygon points="1399.3,110.2 1399.2,122.2 1390.4,118.3" fill="#ff0000"/>
<line x1="1399.3" y1="110.2" x2="1435.8" y2="126.8" stroke="#ff0000" stroke-width="3.4"/><polygon points="1444.0,130.5 1432.0,130.3 1436.0,121.6" fill="#ff0000"/>
</g>
<g shape-rendering="crispEdges">
<rect x="4" y="701" width="1" height="9" fill="#c0c0c0"/>
<rect x="12" y="701" width="1" height="18" fill="#c0c0c0"/>
<rect x="20" y="701" width="1" height="26" fill="#c0c0c0"/>
<rect x="28" y="701" width="1" height="33" fill="#c0c0c0"/>
<rect x="36" y="701" width="1" height="39" fill="#c0c0c0"/>
<rect x="44" y="701" width="1" height="35" fill="#c0c0c0"/>
<rect x="52" y="701" width="1" height="35" fill="#c0c0c0"/>
<rect x="60" y="701" width="1" height="31" fill="#c0c0c0"/>
<rect x="68" y="701" width="1" height="27" fill="#c0c0c0"/>
<rect x="76" y="701" width="1" height="23" fill="#c0c0c0"/>
<rect x="84" y="701" width="1" height="16" fill="#c0c0c0"/>
<rect x="92" y="701" width="1" height="16" fill="#c0c0c0"/>
<rect x="100" y="701" width="1" height="19" fill="#c0c0c0"/>
<rect x="108" y="701" width="1" height="19" fill="#c0c0c0"/>
<rect x="116" y="701" width="1" height="21" fill="#c0c0c0"/>
<rect x="124" y="701" width="1" height="22" fill="#c0c0c0"/>
<rect x="132" y="701" width="1" height="23" fill="#c0c0c0"/>
<rect x="140" y="701" width="1" height="26" fill="#c0c0c0"/>
<rect x="148" y="701" width="1" height="31" fill="#c0c0c0"/>
<rect x="156" y="701" width="1" height="31" fill="#c0c0c0"/>
<rect x="164" y="701" width="1" height="31" fill="#c0c0c0"/>
<rect x="172" y="701" width="1" height="31" fill="#c0c0c0"/>
<rect x="180" y="701" width="1" height="28" fill="#c0c0c0"/>
<rect x="188" y="701" width="1" height="23" fill="#c0c0c0"/>
<rect x="196" y="701" width="1" height="16" fill="#c0c0c0"/>
<rect x="204" y="701" width="1" height="7" fill="#c0c0c0"/>
<rect x="212" y="701" width="1" height="1" fill="#c0c0c0"/>
<rect x="220" y="701" width="1" height="1" fill="#c0c0c0"/>
<rect x="228" y="701" width="1" height="4" fill="#c0c0c0"/>
<rect x="236" y="701" width="1" height="9" fill="#c0c0c0"/>
<rect x="244" y="701" width="1" height="11" fill="#c0c0c0"/>
<rect x="252" y="701" width="1" height="11" fill="#c0c0c0"/>
<rect x="260" y="701" width="1" height="11" fill="#c0c0c0"/>
<rect x="268" y="701" width="1" height="15" fill="#c0c0c0"/>
<rect x="276" y="701" width="1" height="14" fill="#c0c0c0"/>
<rect x="284" y="701" width="1" height="15" fill="#c0c0c0"/>
<rect x="292" y="701" width="1" height="16" fill="#c0c0c0"/>
<rect x="300" y="701" width="1" height="17" fill="#c0c0c0"/>
<rect x="308" y="701" width="1" height="17" fill="#c0c0c0"/>
<rect x="316" y="701" width="1" height="10" fill="#c0c0c0"/>
<rect x="324" y="701" width="1" height="4" fill="#c0c0c0"/>
<rect x="332" y="698" width="1" height="4" fill="#c0c0c0"/>
<rect x="340" y="693" width="1" height="9" fill="#c0c0c0"/>
<rect x="348" y="693" width="1" height="9" fill="#c0c0c0"/>
<rect x="356" y="693" width="1" height="9" fill="#c0c0c0"/>
<rect x="364" y="693" width="1" height="9" fill="#c0c0c0"/>
<rect x="372" y="688" width="1" height="14" fill="#c0c0c0"/>
<rect x="380" y="682" width="1" height="20" fill="#c0c0c0"/>
<rect x="388" y="673" width="1" height="29" fill="#c0c0c0"/>
<rect x="396" y="665" width="1" height="37" fill="#c0c0c0"/>
<rect x="404" y="658" width="1" height="44" fill="#c0c0c0"/>
<rect x="412" y="653" width="1" height="49" fill="#c0c0c0"/>
<rect x="420" y="645" width="1" height="57" fill="#c0c0c0"/>
<rect x="428" y="637" width="1" height="65" fill="#c0c0c0"/>
<rect x="436" y="624" width="1" height="78" fill="#c0c0c0"/>
<rect x="444" y="618" width="1" height="84" fill="#c0c0c0"/>
<rect x="452" y="612" width="1" height="90" fill="#c0c0c0"/>
<rect x="460" y="610" width="1" height="92" fill="#c0c0c0"/>
<rect x="468" y="607" width="1" height="95" fill="#c0c0c0"/>
<rect x="476" y="604" width="1" height="98" fill="#c0c0c0"/>
<rect x="484" y="608" width="1" height="94" fill="#c0c0c0"/>
<rect x="492" y="615" width="1" height="87" fill="#c0c0c0"/>
<rect x="500" y="621" width="1" height="81" fill="#c0c0c0"/>
<rect x="508" y="621" width="1" height="81" fill="#c0c0c0"/>
<rect x="516" y="626" width="1" height="76" fill="#c0c0c0"/>
<rect x="524" y="633" width="1" height="69" fill="#c0c0c0"/>
<rect x="532" y="641" width="1" height="61" fill="#c0c0c0"/>
<rect x="540" y="650" width="1" height="52" fill="#c0c0c0"/>
<rect x="548" y="658" width="1" height="44" fill="#c0c0c0"/>
<rect x="556" y="658" width="1" height="44" fill="#c0c0c0"/>
<rect x="564" y="656" width="1" height="46" fill="#c0c0c0"/>
<rect x="572" y="659" width="1" height="43" fill="#c0c0c0"/>
<rect x="580" y="664" width="1" height="38" fill="#c0c0c0"/>
<rect x="588" y="668" width="1" height="34" fill="#c0c0c0"/>
<rect x="596" y="672" width="1" height="30" fill="#c0c0c0"/>
<rect x="604" y="674" width="1" height="28" fill="#c0c0c0"/>
<rect x="612" y="676" width="1" height="26" fill="#c0c0c0"/>
<rect x="620" y="677" width="1" height="25" fill="#c0c0c0"/>
<rect x="628" y="679" width="1" height="23" fill="#c0c0c0"/>
<rect x="636" y="681" width="1" height="21" fill="#c0c0c0"/>
<rect x="644" y="682" width="1" height="20" fill="#c0c0c0"/>
<rect x="652" y="679" width="1" height="23" fill="#c0c0c0"/>
<rect x="660" y="679" width="1" height="23" fill="#c0c0c0"/>
<rect x="668" y="675" width="1" height="27" fill="#c0c0c0"/>
<rect x="676" y="676" width="1" height="26" fill="#c0c0c0"/>
<rect x="684" y="676" width="1" height="26" fill="#c0c0c0"/>
<rect x="692" y="676" width="1" height="26" fill="#c0c0c0"/>
<rect x="700" y="674" width="1" height="28" fill="#c0c0c0"/>
<rect x="708" y="668" width="1" height="34" fill="#c0c0c0"/>
<rect x="716" y="663" width="1" height="39" fill="#c0c0c0"/>
<rect x="724" y="662" width="1" height="40" fill="#c0c0c0"/>
<rect x="732" y="658" width="1" height="44" fill="#c0c0c0"/>
<rect x="740" y="655" width="1" height="47" fill="#c0c0c0"/>
<rect x="748" y="653" width="1" height="49" fill="#c0c0c0"/>
<rect x="756" y="646" width="1" height="56" fill="#c0c0c0"/>
<rect x="764" y="640" width="1" height="62" fill="#c0c0c0"/>
<rect x="772" y="633" width="1" height="69" fill="#c0c0c0"/>
<rect x="780" y="626" width="1" height="76" fill="#c0c0c0"/>
<rect x="788" y="621" width="1" height="81" fill="#c0c0c0"/>
<rect x="796" y="610" width="1" height="92" fill="#c0c0c0"/>
<rect x="804" y="605" width="1" height="97" fill="#c0c0c0"/>
<rect x="812" y="599" width="1" height="103" fill="#c0c0c0"/>
<rect x="820" y="589" width="1" height="113" fill="#c0c0c0"/>
<rect x="828" y="588" width="1" height="114" fill="#c0c0c0"/>
<rect x="836" y="589" width="1" height="113" fill="#c0c0c0"/>
<rect x="844" y="593" width="1" height="109" fill="#c0c0c0"/>
<rect x="852" y="593" width="1" height="109" fill="#c0c0c0"/>
<rect x="860" y="591" width="1" height="111" fill="#c0c0c0"/>
<rect x="868" y="590" width="1" height="112" fill="#c0c0c0"/>
<rect x="876" y="597" width="1" height="105" fill="#c0c0c0"/>
<rect x="884" y="604" width="1" height="98" fill="#c0c0c0"/>
<rect x="892" y="613" width="1" height="89" fill="#c0c0c0"/>
<rect x="900" y="621" width="1" height="81" fill="#c0c0c0"/>
<rect x="908" y="625" width="1" height="77" fill="#c0c0c0"/>
<rect x="916" y="627" width="1" height="75" fill="#c0c0c0"/>
<rect x="924" y="628" width="1" height="74" fill="#c0c0c0"/>
<rect x="932" y="629" width="1" height="73" fill="#c0c0c0"/>
<rect x="940" y="629" width="1" height="73" fill="#c0c0c0"/>
<rect x="948" y="625" width="1" height="77" fill="#c0c0c0"/>
<rect x="956" y="630" width="1" height="72" fill="#c0c0c0"/>
<rect x="964" y="632" width="1" height="70" fill="#c0c0c0"/>
<rect x="972" y="641" width="1" height="61" fill="#c0c0c0"/>
<rect x="980" y="647" width="1" height="55" fill="#c0c0c0"/>
<rect x="988" y="653" width="1" height="49" fill="#c0c0c0"/>
<rect x="996" y="656" width="1" height="46" fill="#c0c0c0"/>
<rect x="1004" y="658" width="1" height="44" fill="#c0c0c0"/>
<rect x="1012" y="661" width="1" height="41" fill="#c0c0c0"/>
<rect x="1020" y="660" width="1" height="42" fill="#c0c0c0"/>
<rect x="1028" y="658" width="1" height="44" fill="#c0c0c0"/>
<rect x="1036" y="655" width="1" height="47" fill="#c0c0c0"/>
<rect x="1044" y="654" width="1" height="48" fill="#c0c0c0"/>
<rect x="1052" y="660" width="1" height="42" fill="#c0c0c0"/>
<rect x="1060" y="664" width="1" height="38" fill="#c0c0c0"/>
<rect x="1068" y="668" width="1" height="34" fill="#c0c0c0"/>
<rect x="1076" y="672" width="1" height="30" fill="#c0c0c0"/>
<rect x="1084" y="677" width="1" height="25" fill="#c0c0c0"/>
<rect x="1092" y="684" width="1" height="18" fill="#c0c0c0"/>
<rect x="1100" y="688" width="1" height="14" fill="#c0c0c0"/>
<rect x="1108" y="689" width="1" height="13" fill="#c0c0c0"/>
<rect x="1116" y="690" width="1" height="12" fill="#c0c0c0"/>
<rect x="1124" y="691" width="1" height="11" fill="#c0c0c0"/>
<rect x="1132" y="689" width="1" height="13" fill="#c0c0c0"/>
<rect x="1140" y="690" width="1" height="12" fill="#c0c0c0"/>
<rect x="1148" y="693" width="1" height="9" fill="#c0c0c0"/>
<rect x="1156" y="693" width="1" height="9" fill="#c0c0c0"/>
<rect x="1164" y="692" width="1" height="10" fill="#c0c0c0"/>
<rect x="1172" y="692" width="1" height="10" fill="#c0c0c0"/>
<rect x="1180" y="698" width="1" height="4" fill="#c0c0c0"/>
<rect x="1188" y="701" width="1" height="4" fill="#c0c0c0"/>
<rect x="1196" y="701" width="1" height="14" fill="#c0c0c0"/>
<rect x="1204" y="701" width="1" height="20" fill="#c0c0c0"/>
<rect x="1212" y="701" width="1" height="28" fill="#c0c0c0"/>
<rect x="1220" y="701" width="1" height="34" fill="#c0c0c0"/>
<rect x="1228" y="701" width="1" height="35" fill="#c0c0c0"/>
<rect x="1236" y="701" width="1" height="31" fill="#c0c0c0"/>
<rect x="1244" y="701" width="1" height="28" fill="#c0c0c0"/>
<rect x="1252" y="701" width="1" height="25" fill="#c0c0c0"/>
<rect x="1260" y="701" width="1" height="24" fill="#c0c0c0"/>
<rect x="1268" y="701" width="1" height="23" fill="#c0c0c0"/>
<rect x="1276" y="701" width="1" height="17" fill="#c0c0c0"/>
<rect x="1284" y="701" width="1" height="15" fill="#c0c0c0"/>
<rect x="1292" y="701" width="1" height="12" fill="#c0c0c0"/>
<rect x="1300" y="701" width="1" height="9" fill="#c0c0c0"/>
<rect x="1308" y="701" width="1" height="2" fill="#c0c0c0"/>
<rect x="1316" y="701" width="1" height="1" fill="#c0c0c0"/>
<rect x="1324" y="698" width="1" height="4" fill="#c0c0c0"/>
<rect x="1332" y="700" width="1" height="2" fill="#c0c0c0"/>
<rect x="1340" y="701" width="1" height="1" fill="#c0c0c0"/>
<rect x="1348" y="701" width="1" height="4" fill="#c0c0c0"/>
<rect x="1356" y="701" width="1" height="6" fill="#c0c0c0"/>
<rect x="1364" y="701" width="1" height="8" fill="#c0c0c0"/>
<rect x="1372" y="701" width="1" height="5" fill="#c0c0c0"/>
<rect x="1380" y="701" width="1" height="1" fill="#c0c0c0"/>
<rect x="1388" y="696" width="1" height="6" fill="#c0c0c0"/>
<rect x="1396" y="694" width="1" height="8" fill="#c0c0c0"/>
<rect x="1404" y="689" width="1" height="13" fill="#c0c0c0"/>
<rect x="1412" y="686" width="1" height="16" fill="#c0c0c0"/>
<rect x="1420" y="687" width="1" height="15" fill="#c0c0c0"/>
<polyline points="2.4,736.9 10.0,731.6 19.6,726.8 28.9,723.0 37.0,722.4 45.0,723.0 53.0,725.8 61.0,727.7 69.0,730.6 77.1,731.6 85.1,731.6 93.1,730.0 101.1,728.3 109.1,726.8 117.2,725.3 125.2,723.0 133.2,722.4 141.2,722.4 149.2,723.4 157.3,725.3 165.3,726.8 173.3,727.4 181.3,728.7 189.3,729.3 197.3,728.3 205.4,725.8 213.4,723.5 221.4,719.2 229.4,717.2 237.4,715.3 245.5,711.9 253.5,710.6 261.5,709.6 269.5,709.6 277.5,710.6 285.6,711.5 293.6,713.8 301.6,715.3 309.6,715.7 316.9,715.3 324.9,713.8 332.9,712.5 340.9,710.2 349.0,708.1 357.0,705.8 365.0,702.5 373.0,699.1 381.0,694.3 389.1,690.5 397.1,685.7 405.1,681.0 413.1,677.7 421.1,671.4 429.2,664.7 437.2,657.5 445.2,650.4 453.2,641.8 461.2,635.7 469.3,629.4 477.3,621.8 485.3,617.4 493.3,614.1 501.3,612.6 509.3,612.4 517.4,613.8 525.4,615.5 533.4,618.9 541.4,623.7 549.4,630.4 557.5,635.7 565.5,639.9 573.5,644.7 581.5,648.5 589.5,653.7 597.6,657.7 605.6,661.3 613.6,664.4 621.6,666.6 628.9,669.5 636.9,671.4 644.9,674.3 652.9,675.6 661.0,677.1 669.0,677.5 677.0,677.5 685.0,677.5 693.0,677.5 701.1,676.2 709.1,674.9 717.1,673.3 725.1,671.4 733.1,668.9 741.2,667.6 749.2,663.8 757.2,661.9 765.2,657.1 773.2,652.9 781.3,648.1 789.3,642.2 797.3,637.1 805.3,630.4 813.3,624.6 821.3,618.9 829.4,612.2 837.4,605.9 845.4,601.7 853.4,598.9 861.4,594.7 869.5,592.2 877.5,591.6 885.5,592.2 893.5,595.0 901.5,598.9 909.6,602.7 917.6,606.5 925.6,610.3 933.6,614.5 940.9,618.5 948.9,621.8 956.9,624.3 964.9,626.2 973.0,629.0 981.0,631.3 989.0,634.6 997.0,637.6 1005.0,640.5 1013.1,644.1 1021.1,648.5 1029.1,651.0 1037.1,653.7 1045.1,654.8 1053.2,656.1 1061.2,657.5 1069.2,658.6 1077.2,660.3 1085.2,662.4 1093.3,665.7 1101.3,668.2 1109.3,672.4 1117.3,676.2 1125.3,679.1 1133.3,682.9 1141.4,685.7 1149.4,687.6 1157.4,689.6 1165.4,690.5 1173.4,690.5 1181.5,691.5 1189.5,693.4 1197.5,696.2 1205.5,700.1 1213.5,704.8 1221.6,709.6 1229.6,712.9 1237.6,718.2 1245.6,722.0 1252.9,725.8 1260.9,727.7 1268.9,729.3 1276.9,728.3 1285.0,727.4 1293.0,724.5 1301.0,721.6 1309.0,719.2 1317.0,715.7 1325.1,712.5 1333.1,709.6 1341.1,706.7 1349.1,705.4 1357.1,704.5 1365.2,704.5 1373.2,703.9 1381.2,703.5 1389.2,702.5 1397.2,702.2 1405.3,700.6 1413.3,699.1 1421.3,697.2" fill="none" stroke="#ff0000" stroke-width="1" stroke-dasharray="3 3"/>
<line x1="3" y1="786.5" x2="1686" y2="786.5" stroke="#c0c0c0" stroke-width="1" stroke-dasharray="3 3"/>
<line x1="3" y1="837.5" x2="1686" y2="837.5" stroke="#c0c0c0" stroke-width="1" stroke-dasharray="3 3"/>
<line x1="3" y1="898.5" x2="1686" y2="898.5" stroke="#c0c0c0" stroke-width="1" stroke-dasharray="3 3"/>
<polyline points="4.5,841.0 12.5,851.0 20.5,853.3 28.5,854.4 36.5,854.4 44.5,843.3 52.5,846.6 60.5,839.5 68.5,838.2 76.5,840.5 84.5,832.3 92.5,842.0 100.5,846.6 108.5,845.2 116.5,846.2 124.5,846.2 132.5,847.5 140.5,852.9 148.5,857.3 156.5,853.3 164.5,848.7 172.5,848.5 180.5,846.2 188.5,838.0 196.5,827.1 204.5,822.3 212.5,825.6 220.5,836.6 228.5,846.2 236.5,852.5 244.5,845.6 252.5,844.3 260.5,845.6 268.5,849.4 276.5,842.4 284.5,846.2 292.5,849.4 300.5,847.5 308.5,846.2 316.5,827.1 324.5,825.2 332.5,816.2 340.5,823.3 348.5,834.2 356.5,832.4 364.5,833.4 372.5,820.0 380.5,815.6 388.5,807.1 396.5,805.1 404.5,803.2 412.5,801.9 420.5,796.2 428.5,791.8 436.5,784.1 444.5,794.3 452.5,793.5 460.5,796.6 468.5,793.5 476.5,790.3 484.5,810.9 492.5,821.4 500.5,817.9 508.5,809.3 516.5,822.3 524.5,826.5 532.5,832.4 540.5,835.7 548.5,837.6 556.5,821.8 564.5,818.1 572.5,829.6 580.5,834.4 588.5,833.4 596.5,833.4 604.5,830.3 612.5,832.4 620.5,829.4 628.5,832.4 636.5,831.5 644.5,830.3 652.5,818.3 660.5,827.5 668.5,817.4 676.5,828.4 684.5,826.5 692.5,825.4 700.5,819.5 708.5,810.3 716.5,809.3 724.5,816.4 732.5,809.3 740.5,809.3 748.5,807.1 756.5,798.5 764.5,795.2 772.5,792.2 780.5,788.3 788.5,787.4 796.5,779.4 804.5,792.2 812.5,788.0 820.5,783.8 828.5,800.4 836.5,802.3 844.5,806.3 852.5,801.3 860.5,797.1 868.5,796.2 876.5,815.3 884.5,815.3 892.5,823.3 900.5,824.6 908.5,816.2 916.5,814.1 924.5,811.3 932.5,809.3 940.5,807.1 948.5,799.4 956.5,821.4 964.5,818.3 972.5,832.4 980.5,830.3 988.5,831.5 996.5,825.4 1004.5,824.2 1012.5,828.4 1020.5,818.3 1028.5,815.3 1036.5,812.2 1044.5,815.6 1052.5,831.3 1060.5,832.4 1068.5,830.3 1076.5,834.4 1084.5,837.4 1092.5,847.5 1100.5,838.6 1108.5,835.3 1116.5,834.4 1124.5,832.4 1132.5,827.5 1140.5,833.4 1148.5,841.4 1156.5,832.4 1164.5,831.5 1172.5,833.4 1180.5,850.6 1188.5,859.6 1196.5,866.2 1204.5,862.4 1212.5,868.5 1220.5,865.3 1228.5,854.8 1236.5,841.4 1244.5,844.3 1252.5,840.5 1260.5,846.2 1268.5,844.3 1276.5,831.5 1284.5,841.4 1292.5,835.5 1300.5,835.1 1308.5,825.4 1316.5,827.5 1324.5,828.4 1332.5,842.4 1340.5,842.4 1348.5,849.4 1356.5,846.4 1364.5,847.5 1372.5,835.7 1380.5,823.3 1388.5,820.4 1396.5,828.4 1404.5,821.4 1412.5,823.3 1420.5,831.5" fill="none" stroke="#1e90ff" stroke-width="1" />
</g>
<g shape-rendering="crispEdges" fill="#000">
<rect x="0" y="23" width="1687" height="1"/>
<rect x="1686" y="23" width="1" height="902"/>
<rect x="0" y="576" width="1687" height="1"/>
<rect x="0" y="578" width="1687" height="1"/>
<rect x="0" y="748" width="1687" height="1"/>
<rect x="0" y="750" width="1687" height="1"/>
<rect x="0" y="924" width="1687" height="1"/>
<rect x="1687" y="45" width="2" height="1"/>
<rect x="1687" y="78" width="2" height="1"/>
<rect x="1687" y="111" width="2" height="1"/>
<rect x="1687" y="144" width="2" height="1"/>
<rect x="1687" y="177" width="2" height="1"/>
<rect x="1687" y="210" width="2" height="1"/>
<rect x="1687" y="243" width="2" height="1"/>
<rect x="1687" y="276" width="2" height="1"/>
<rect x="1687" y="309" width="2" height="1"/>
<rect x="1687" y="342" width="2" height="1"/>
<rect x="1687" y="375" width="2" height="1"/>
<rect x="1687" y="408" width="2" height="1"/>
<rect x="1687" y="441" width="2" height="1"/>
<rect x="1687" y="474" width="2" height="1"/>
<rect x="1687" y="507" width="2" height="1"/>
<rect x="1687" y="540" width="2" height="1"/>
<rect x="1687" y="573" width="2" height="1"/>
<rect x="1687" y="580" width="1" height="1"/>
<rect x="1687" y="701" width="1" height="1"/>
<rect x="1687" y="747" width="1" height="1"/>
<rect x="1687" y="752" width="1" height="1"/>
<rect x="1687" y="923" width="1" height="1"/>
<rect x="60" y="925" width="1" height="3"/>
<rect x="124" y="925" width="1" height="3"/>
<rect x="188" y="925" width="1" height="3"/>
<rect x="252" y="925" width="1" height="3"/>
<rect x="316" y="925" width="1" height="3"/>
<rect x="380" y="925" width="1" height="3"/>
<rect x="444" y="925" width="1" height="3"/>
<rect x="508" y="925" width="1" height="3"/>
<rect x="572" y="925" width="1" height="3"/>
<rect x="636" y="925" width="1" height="3"/>
<rect x="700" y="925" width="1" height="3"/>
<rect x="764" y="925" width="1" height="3"/>
<rect x="828" y="925" width="1" height="3"/>
<rect x="892" y="925" width="1" height="3"/>
<rect x="956" y="925" width="1" height="3"/>
<rect x="1020" y="925" width="1" height="3"/>
<rect x="1084" y="925" width="1" height="3"/>
<rect x="1148" y="925" width="1" height="3"/>
<rect x="1212" y="925" width="1" height="3"/>
<rect x="1276" y="925" width="1" height="3"/>
<rect x="1340" y="925" width="1" height="3"/>
<rect x="1404" y="925" width="1" height="3"/>
</g>
<polygon points="1427,24 1437,24 1432,29" fill="#c0c0c0"/>
<polygon points="0,34 6.5,34 3.2,30" fill="#000"/>
<rect x="1493.5" y="104.5" width="110" height="24" fill="#fff" stroke="#404040" stroke-width="1"/><text x="1492.6" y="123.7" font-size="21.4" letter-spacing="0.6" fill="#00ff00" font-family="&quot;Liberation Sans&quot;, &quot;Noto Sans CJK SC&quot;, sans-serif">多空转折点</text><rect x="1546.5" y="102.5" width="2" height="2" fill="none" stroke="#00e000" stroke-width="0.8"/>
<rect x="0" y="0" width="1733" height="19" fill="#f0f0f0"/><rect x="0" y="18" width="1733" height="1" fill="#f6f6f6"/><rect x="0" y="19" width="1733" height="1" fill="#a0a0a0"/><rect x="0" y="20" width="1733" height="1" fill="#696969"/><rect x="0" y="21" width="1733" height="1" fill="#e8e8e8"/><rect x="47" y="0" width="1" height="17" fill="#a0a0a0"/><rect x="321" y="0" width="1" height="17" fill="#a0a0a0"/><rect x="378" y="0" width="1" height="17" fill="#a0a0a0"/><rect x="468" y="0" width="1" height="17" fill="#a0a0a0"/><rect x="473" y="0" width="1" height="17" fill="#a0a0a0"/><rect x="501" y="0" width="1" height="17" fill="#a0a0a0"/><rect x="530" y="0" width="1" height="17" fill="#a0a0a0"/><rect x="718" y="0" width="1" height="17" fill="#a0a0a0"/><rect x="1135" y="0" width="1" height="17" fill="#a0a0a0"/><rect x="283" y="0" width="1" height="19" fill="#a0a0a0"/><rect x="284" y="0" width="1" height="19" fill="#ffffff"/><rect x="651" y="0" width="1" height="19" fill="#a0a0a0"/><rect x="652" y="0" width="1" height="19" fill="#ffffff"/><rect x="957" y="0" width="1" height="19" fill="#a0a0a0"/><rect x="958" y="0" width="1" height="19" fill="#ffffff"/><rect x="1218" y="0" width="1" height="19" fill="#a0a0a0"/><rect x="1219" y="0" width="1" height="19" fill="#ffffff"/><rect x="287" y="1" width="3" height="1" fill="#a8a8a8"/><rect x="287" y="3" width="3" height="1" fill="#a8a8a8"/><rect x="287" y="5" width="3" height="1" fill="#a8a8a8"/><rect x="287" y="7" width="3" height="1" fill="#a8a8a8"/><rect x="287" y="9" width="3" height="1" fill="#a8a8a8"/><rect x="287" y="11" width="3" height="1" fill="#a8a8a8"/><rect x="287" y="13" width="3" height="1" fill="#a8a8a8"/><rect x="287" y="15" width="3" height="1" fill="#a8a8a8"/><rect x="655" y="1" width="3" height="1" fill="#a8a8a8"/><rect x="655" y="3" width="3" height="1" fill="#a8a8a8"/><rect x="655" y="5" width="3" height="1" fill="#a8a8a8"/><rect x="655" y="7" width="3" height="1" fill="#a8a8a8"/><rect x="655" y="9" width="3" height="1" fill="#a8a8a8"/><rect x="655" y="11" width="3" height="1" fill="#a8a8a8"/><rect x="655" y="13" width="3" height="1" fill="#a8a8a8"/><rect x="655" y="15" width="3" height="1" fill="#a8a8a8"/><rect x="961" y="1" width="3" height="1" fill="#a8a8a8"/><rect x="961" y="3" width="3" height="1" fill="#a8a8a8"/><rect x="961" y="5" width="3" height="1" fill="#a8a8a8"/><rect x="961" y="7" width="3" height="1" fill="#a8a8a8"/><rect x="961" y="9" width="3" height="1" fill="#a8a8a8"/><rect x="961" y="11" width="3" height="1" fill="#a8a8a8"/><rect x="961" y="13" width="3" height="1" fill="#a8a8a8"/><rect x="961" y="15" width="3" height="1" fill="#a8a8a8"/><rect x="322" y="0" width="24" height="17" fill="#f8f8f8"/><rect x="474" y="0" width="25" height="17" fill="#f8f8f8"/><rect x="502" y="0" width="24" height="17" fill="#f8f8f8"/><rect x="662" y="0" width="24" height="17" fill="#f8f8f8"/><rect x="1137" y="0" width="24" height="17" fill="#f8f8f8"/><rect x="-2" y="-2" width="11" height="15.5" fill="#fff" stroke="#3a6fc4" stroke-width="1.4"/><rect x="0" y="2" width="8" height="1" fill="#c7d9f5"/><rect x="0" y="4.5" width="8" height="1" fill="#c7d9f5"/><rect x="0" y="7" width="8" height="1" fill="#c7d9f5"/><rect x="0" y="9.5" width="8" height="1" fill="#c7d9f5"/><rect x="22.5" y="-2" width="11.5" height="14" fill="#f4f0e6" stroke="#b9b2a2" stroke-width="1"/><path d="M25 2 v6 M25 5 h3 M31 1 v6" stroke="#8a8a8a" stroke-width="1" fill="none"/><line x1="34" y1="11.5" x2="39" y2="15.5" stroke="#c79a1c" stroke-width="2.6"/><circle cx="30.3" cy="8" r="4.8" fill="#dbe8f8" fill-opacity="0.85" stroke="#7da3dc" stroke-width="1.2"/><path d="M57.5 -2 h8 l3.5 3.5 v10.5 h-11.5 z" fill="#fff" stroke="#9a9a9a" stroke-width="1"/><path d="M60 3 h3 M60 5.5 h6 M60 8 h6" stroke="#a0a0a0" stroke-width="1"/><path d="M65.2 5.6 h3.8 v3.8 h3.8 v3.8 h-3.8 v3.8 h-3.8 v-3.8 h-3.8 v-3.8 h3.8 z" fill="#22c022" stroke="#0c8f0c" stroke-width="0.8"/><text x="75.8" y="10.2" font-size="12.2" fill="#000" font-family="&quot;Liberation Sans&quot;, &quot;Noto Sans CJK SC&quot;, sans-serif">新订单</text><path d="M124.3 8.2 L130 -0.5 L139.8 7.2 L139.4 10 L132.6 15 L124.6 9.6 Z" fill="#9c6c12"/><path d="M124.3 8.2 L130 -0.5 L139.8 7.2 L133 13.2 Z" fill="#e9b432"/><path d="M127 7.6 L130.8 1.6 L136.6 6.2" fill="none" stroke="#f8de8e" stroke-width="1.2"/><rect x="155" y="-1" width="10" height="9" fill="#2a8ae0" stroke="#1b62b8" stroke-width="1"/><rect x="158" y="2.5" width="5" height="2" fill="#d6ecff"/><path d="M154.5 14 a2.8 2.8 0 0 1 0.6 -5.5 a3.8 3.8 0 0 1 7 -0.6 a3 3 0 0 1 3.4 6.1 z" fill="#e4eaf5" stroke="#7c91b5" stroke-width="1"/><circle cx="188" cy="6.5" r="7" fill="none" stroke="#9fb6de" stroke-width="1"/><circle cx="188" cy="6.5" r="4.6" fill="none" stroke="#5f86cf" stroke-width="1.1"/><path d="M188 -0.5 a7 7 0 0 1 0 14 z" fill="#9fd49f" fill-opacity="0.75"/><circle cx="188" cy="6.5" r="1.7" fill="#2a55c4"/><rect x="187.3" y="6.5" width="1.5" height="8" fill="#1fa01f"/><path d="M209 6 L213 13.5 L221 13.5 L222.5 5 Z" fill="#f6d64a" stroke="#d9a81c" stroke-width="0.8"/><ellipse cx="215" cy="3.6" rx="7.6" ry="2.6" fill="#59a7e6" stroke="#2f7fc8" stroke-width="0.8"/><path d="M211.5 3 L213 -2 L217 -2 L218.5 3 Z" fill="#59a7e6"/><circle cx="219.5" cy="10.8" r="4" fill="#e0201a" stroke="#b01010" stroke-width="0.6"/><rect x="218" y="9.3" width="3" height="3" fill="#fff"/><text x="228.6" y="10.2" font-size="12.2" letter-spacing="-0.5" fill="#000" font-family="&quot;Liberation Sans&quot;, &quot;Noto Sans CJK SC&quot;, sans-serif">自动交易</text><path d="M301.5 1.5 V14.5 M299 12.5 H312.5" stroke="#555" stroke-width="1.3" fill="none"/><path d="M300 3.5 L301.5 1 L303 3.5 M310.5 11 L312.5 12.5 L310.5 14" stroke="#555" stroke-width="1" fill="none"/><path d="M308 3 V10 M305.5 9.5 H308 M308 3.5 H310.5" stroke="#1f9a1f" stroke-width="1.4" fill="none"/><path d="M329.5 1.5 V14.5 M327 12.5 H340.5" stroke="#555" stroke-width="1.3" fill="none"/><path d="M328 3.5 L329.5 1 L331 3.5 M338.5 11 L340.5 12.5 L338.5 14" stroke="#555" stroke-width="1" fill="none"/><path d="M335.5 0 V11" stroke="#1f9a1f" stroke-width="1.2"/><rect x="333.2" y="1.3" width="4.6" height="7.4" fill="#2fd02f" stroke="#1f9a1f" stroke-width="0.8"/><path d="M357.5 1.5 V14.5 M355 12.5 H368.5" stroke="#555" stroke-width="1.3" fill="none"/><path d="M356 3.5 L357.5 1 L359 3.5 M366.5 11 L368.5 12.5 L366.5 14" stroke="#555" stroke-width="1" fill="none"/><path d="M356 9.5 C359 8 360 4 362.5 4.3 C365 4.6 366 7.5 368.5 8.3" stroke="#1f9a1f" stroke-width="1.3" fill="none"/><line x1="397" y1="9.3" x2="402" y2="14" stroke="#d2a51e" stroke-width="2.8"/><circle cx="393" cy="4.8" r="5.4" fill="#e2eefb" stroke="#4a7fd0" stroke-width="1.2"/><path d="M390 4.8 H396" stroke="#3a72c8" stroke-width="1.6"/><path d="M393 1.8 V7.8" stroke="#3a72c8" stroke-width="1.6"/><line x1="425.1" y1="9.3" x2="430.1" y2="14" stroke="#d2a51e" stroke-width="2.8"/><circle cx="421.1" cy="4.8" r="5.4" fill="#e2eefb" stroke="#4a7fd0" stroke-width="1.2"/><path d="M418.1 4.8 H424.1" stroke="#3a72c8" stroke-width="1.6"/><rect x="443" y="-1" width="8" height="8" fill="#4aa52c"/><rect x="451" y="-1" width="8" height="8" fill="#2f63d4"/><rect x="443" y="7" width="8" height="7.7" fill="#2f63d4"/><rect x="451" y="7" width="8" height="7.7" fill="#4aa52c"/><rect x="444.5" y="2" width="5" height="3" fill="none" stroke="#e8f0ff" stroke-width="1"/><rect x="452.5" y="2" width="5" height="3" fill="none" stroke="#e8f0ff" stroke-width="1"/><rect x="444.5" y="9.5" width="5" height="3" fill="none" stroke="#e8f0ff" stroke-width="1"/><rect x="452.5" y="9.5" width="5" height="3" fill="none" stroke="#e8f0ff" stroke-width="1"/><path d="M481.5 1.5 V14.5 M479 12.5 H492.5" stroke="#555" stroke-width="1.3" fill="none"/><path d="M480 3.5 L481.5 1 L483 3.5 M490.5 11 L492.5 12.5 L490.5 14" stroke="#555" stroke-width="1" fill="none"/><path d="M486 3 L490 6.3 L486 9.5 Z" fill="#b8e8b8" stroke="#1f9a1f" stroke-width="1"/><path d="M509.5 1.5 V14.5 M507 12.5 H520.5" stroke="#555" stroke-width="1.3" fill="none"/><path d="M508 3.5 L509.5 1 L511 3.5 M518.5 11 L520.5 12.5 L518.5 14" stroke="#555" stroke-width="1" fill="none"/><path d="M515.5 1.3 V10.8" stroke="#1f6fb8" stroke-width="1.3"/><path d="M521 6.5 H517 M519 4.5 L516.8 6.5 L519 8.5" stroke="#d2500f" stroke-width="1.2" fill="none"/><path d="M540.5 -2 h7 l3.5 3.5 v10.5 h-10.5 z" fill="#fff" stroke="#9a9a9a" stroke-width="1"/><path d="M548.3 5.1 h3.8 v3.8 h3.8 v3.8 h-3.8 v3.8 h-3.8 v-3.8 h-3.8 v-3.8 h3.8 z" fill="#22c022" stroke="#0c8f0c" stroke-width="0.8"/><path d="M561.5 6 h6 l-3 3.2 z" fill="#000"/><circle cx="586" cy="6.9" r="6.8" fill="#fff" stroke="#1a6ad4" stroke-width="2.2"/><path d="M586 3 V7 H589" stroke="#333" stroke-width="1" fill="none"/><path d="M600.7 6 h6 l-3 3.2 z" fill="#000"/><rect x="617.5" y="-1" width="15" height="14" fill="#fff" stroke="#3a78d0" stroke-width="1.2"/><rect x="617.5" y="-1" width="15" height="2.5" fill="#3a78d0"/><path d="M619.5 6 l2 -1 l2 -1.5 l2 1 l2 0.5 l2.5 -1.5" stroke="#a02810" stroke-width="1.2" fill="none"/><path d="M618 7.5 H632" stroke="#3a78d0" stroke-width="0.8"/><path d="M619.5 11.5 l2 -1 l2 0.5 l2.5 -2 l2 0.5 l2 1.5" stroke="#1f9a1f" stroke-width="1.2" fill="none"/><path d="M639.7 6 h6 l-3 3.2 z" fill="#000"/><path d="M669.1 -3 L677.4 8.2 L673.7 8.2 L676 13 L673.9 13.9 L671.5 9.1 L669.1 11.3 Z" fill="#4a4a4a"/><path d="M694 7.5 H700 M703 7.5 H709 M701.5 0 V6 M701.5 9 V14.7" stroke="#555" stroke-width="1" fill="none"/><path d="M735.5 1.3 V13.9" stroke="#555" stroke-width="1.2"/><path d="M758 7.5 H770" stroke="#555" stroke-width="1.2"/><path d="M786 13.9 L798 1.7" stroke="#555" stroke-width="1.2"/><path d="M812.5 8 L822 -1 M815 13 L825.5 3 M813.5 10.5 L815.5 9 M815 7 V12 M817.5 4.5 V9.5 M820 2 V7 M822.5 0 V4.5" stroke="#555" stroke-width="1" fill="none"/><path d="M823.5 11.3 V15.6 H827 M823.5 11.5 H827 M823.5 13.4 H826.3" stroke="#333" stroke-width="1" fill="none"/><line x1="841" y1="0.5" x2="854" y2="0.5" stroke="#555" stroke-width="1" stroke-dasharray="1 1"/><line x1="841" y1="3.5" x2="854" y2="3.5" stroke="#555" stroke-width="1" stroke-dasharray="1 1"/><line x1="841" y1="7.5" x2="854" y2="7.5" stroke="#555" stroke-width="1" stroke-dasharray="1 1"/><line x1="841" y1="11.5" x2="850" y2="11.5" stroke="#555" stroke-width="1" stroke-dasharray="1 1"/><path d="M851.5 11.3 V15.6 M851.5 11.6 H855 M851.5 13.5 H854.2" stroke="#333" stroke-width="1" fill="none"/><rect x="898.5" y="1.5" width="11" height="12" fill="none" stroke="#555" stroke-width="1" stroke-dasharray="1 1"/><path d="M928.4 1.2 L931 3.6 L928.4 6 L925.8 3.6 Z M935.8 8.8 L938.6 11.4 L935.8 14 L933 11.4 Z" fill="#4a4a4a"/><path d="M927.5 7.5 L930 10 L934.5 4.5" stroke="#4a4a4a" stroke-width="1.2" fill="none"/><path d="M945.5 6 h6 l-3 3.2 z" fill="#000"/><line x1="1685.6" y1="7.5" x2="1681" y2="12" stroke="#2060d0" stroke-width="2.4" stroke-linecap="round"/><circle cx="1688.6" cy="4.3" r="3.6" fill="#f4f8ff" stroke="#2468d8" stroke-width="1.3"/><ellipse cx="1721" cy="4.3" rx="6.3" ry="5.4" fill="#f7f7f7" stroke="#9c9c9c" stroke-width="0.9"/><path d="M1722.5 9 L1724.5 11 L1725 8.5 Z" fill="#9a9a9a"/><ellipse cx="1712.2" cy="8" rx="5.2" ry="4.3" fill="#f4f4f6" stroke="#969696" stroke-width="0.9"/><path d="M1709.3 11.3 L1709.5 13.8 L1711.8 12 Z" fill="#9a9a9a"/>
</svg>
<div class="rb"></div>
<div class="tag" style="top:126px;height:3px;background:#000"></div><div class="tag" style="top:54px;background:#ff0000"></div><div class="tag" style="top:82px;background:#ff0000"></div><div class="tag" style="top:128px;background:#ffa500"></div><div class="tag" style="top:148px;background:#0000ff"></div><div class="tag" style="top:179px;background:#0000ff"></div>
<div class="pb" style="left:973px;top:41px;width:60px;height:17px"></div><div class="cn" style="left:1035px;top:50px;width:9px"></div><div class="pb" style="left:703px;top:122px;width:72px;height:23px"></div><div class="cn" style="left:693px;top:134px;width:10px"></div><div class="pb" style="left:405px;top:277px;width:60px;height:17px"></div><div class="cn" style="left:467px;top:286px;width:9px"></div><div class="pb" style="left:1141px;top:200px;width:60px;height:17px"></div><div class="cn" style="left:1203px;top:209px;width:9px"></div>

<div class="tp" style="left:0;top:43px;width:51px;height:24px;background:linear-gradient(#5252f2,#3a3ae0)"></div>
<div class="tp" style="left:166px;top:43px;width:52px;height:24px;background:linear-gradient(#5252f2,#3a3ae0)"></div>
<div class="tp" style="left:0;top:67px;width:108px;height:40px;background:linear-gradient(#3434dc,#1c1cc4 45%,#0000a4)"></div>
<div class="tp" style="left:110px;top:67px;width:108px;height:40px;background:linear-gradient(#3434dc,#1c1cc4 45%,#0000a4)"></div>
<div class="tp" style="left:108px;top:67px;width:2px;height:40px;background:#fff"></div>
<div class="tp" style="left:3px;top:66px;width:44px;height:1px;background:#8f8ff5"></div>
<div class="tp" style="left:170px;top:66px;width:44px;height:1px;background:#8f8ff5"></div>
<div class="tp" style="left:51px;top:43px;width:115px;height:24px;background:#fff"></div>
<div class="tp" style="left:53px;top:43px;width:110px;height:21px;background:#fff;border:1px solid #b4b4b4;box-sizing:border-box"></div>
<div class="tp" style="left:55px;top:45px;width:19px;height:17px;background:linear-gradient(#e4e4e4,#cfcfcf);border:1px solid #c4c4c4;box-sizing:border-box"></div>
<div class="tp" style="left:143px;top:45px;width:19px;height:17px;background:linear-gradient(#e4e4e4,#cfcfcf);border:1px solid #c4c4c4;box-sizing:border-box"></div>
<div class="tp" style="left:74px;top:44px;width:1px;height:19px;background:#c4c4c4"></div>
<div class="tp" style="left:142px;top:44px;width:1px;height:19px;background:#c4c4c4"></div>
<svg class="tp" style="left:60px;top:51px" width="10" height="6"><path d="M1 1 h7 l-3.5 3.6 z" fill="#5068b8"/></svg>
<svg class="tp" style="left:148px;top:51px" width="10" height="6"><path d="M1 4.6 h7 l-3.5 -3.6 z" fill="#5068b8"/></svg>

<span class="t" id="pa0" style="left:1692.3px;top:40.600px;font-size:9.8px;color:#000;transform:scaleX(0.9119);">1.20240</span>
<span class="t" id="pa1" style="left:1692.3px;top:73.600px;font-size:9.8px;color:#000;transform:scaleX(0.9119);">1.19400</span>
<span class="t" id="pa2" style="left:1692.3px;top:106.600px;font-size:9.8px;color:#000;transform:scaleX(0.9119);">1.18580</span>
<span class="t" id="pa3" style="left:1692.3px;top:139.600px;font-size:9.8px;color:#000;transform:scaleX(0.9119);">1.17760</span>
<span class="t" id="pa4" style="left:1692.3px;top:172.600px;font-size:9.8px;color:#000;transform:scaleX(0.9119);">1.16920</span>
<span class="t" id="pa5" style="left:1692.3px;top:205.600px;font-size:9.8px;color:#000;transform:scaleX(0.9119);">1.16100</span>
<span class="t" id="pa6" style="left:1692.3px;top:238.600px;font-size:9.8px;color:#000;transform:scaleX(0.9119);">1.15280</span>
<span class="t" id="pa7" style="left:1692.3px;top:271.600px;font-size:9.8px;color:#000;transform:scaleX(0.9119);">1.14440</span>
<span class="t" id="pa8" style="left:1692.3px;top:304.600px;font-size:9.8px;color:#000;transform:scaleX(0.9119);">1.13620</span>
<span class="t" id="pa9" style="left:1692.3px;top:337.600px;font-size:9.8px;color:#000;transform:scaleX(0.9119);">1.12780</span>
<span class="t" id="pa10" style="left:1692.3px;top:370.600px;font-size:9.8px;color:#000;transform:scaleX(0.9312);">1.11960</span>
<span class="t" id="pa11" style="left:1692.3px;top:403.600px;font-size:9.8px;color:#000;transform:scaleX(0.9509);">1.11140</span>
<span class="t" id="pa12" style="left:1692.3px;top:436.600px;font-size:9.8px;color:#000;transform:scaleX(0.9119);">1.10300</span>
<span class="t" id="pa13" style="left:1692.3px;top:469.600px;font-size:9.8px;color:#000;transform:scaleX(0.9119);">1.09480</span>
<span class="t" id="pa14" style="left:1692.3px;top:502.600px;font-size:9.8px;color:#000;transform:scaleX(0.9119);">1.08660</span>
<span class="t" id="pa15" style="left:1692.3px;top:535.600px;font-size:9.8px;color:#000;transform:scaleX(0.9119);">1.07820</span>
<span class="t" id="pa16" style="left:1692.3px;top:568.600px;font-size:9.8px;color:#000;transform:scaleX(0.9119);">1.07000</span>
<span class="t" id="m1" style="left:1690.3px;top:580.600px;font-size:9.8px;color:#000;transform:scaleX(0.9174);">0.014732</span>
<span class="t" id="m2" style="left:1690.3px;top:696.600px;font-size:9.8px;color:#000;transform:scaleX(0.9173);">0.00</span>
<span class="t" id="m3" style="left:1690.3px;top:736.600px;font-size:9.8px;color:#000;transform:scaleX(0.9178);">-0.005661</span>
<span class="t" id="r1" style="left:1690.4px;top:752.600px;font-size:9.8px;color:#000;transform:scaleX(0.8802);">100</span>
<span class="t" id="r2" style="left:1689.4px;top:781.600px;font-size:9.8px;color:#000;transform:scaleX(0.8619);">80</span>
<span class="t" id="r3" style="left:1689.4px;top:832.600px;font-size:9.8px;color:#000;transform:scaleX(0.8619);">50</span>
<span class="t" id="r4" style="left:1689.6px;top:893.600px;font-size:9.8px;color:#000;transform:scaleX(0.8436);">15</span>
<span class="t" id="r5" style="left:1690.3px;top:912.600px;font-size:9.8px;color:#000;transform:scaleX(0.9169);">0</span>
<span class="t" id="tl0" style="left:-6.0px;top:928.600px;font-size:9.8px;color:#000;transform:scaleX(0.9711);">31 Mar 2020</span>
<span class="t" id="tl1" style="left:58.7px;top:928.600px;font-size:9.8px;color:#000;transform:scaleX(0.9711);">9 Apr 2020</span>
<span class="t" id="tl2" style="left:122.7px;top:928.600px;font-size:9.8px;color:#000;transform:scaleX(0.9711);">20 Apr 2020</span>
<span class="t" id="tl3" style="left:186.7px;top:928.600px;font-size:9.8px;color:#000;transform:scaleX(0.9711);">29 Apr 2020</span>
<span class="t" id="tl4" style="left:250.7px;top:928.600px;font-size:9.8px;color:#000;transform:scaleX(0.9711);">8 May 2020</span>
<span class="t" id="tl5" style="left:314.7px;top:928.600px;font-size:9.8px;color:#000;transform:scaleX(0.9711);">18 May 2020</span>
<span class="t" id="tl6" style="left:378.7px;top:928.600px;font-size:9.8px;color:#000;transform:scaleX(0.9711);">27 May 2020</span>
<span class="t" id="tl7" style="left:442.7px;top:928.600px;font-size:9.8px;color:#000;transform:scaleX(0.9711);">5 Jun 2020</span>
<span class="t" id="tl8" style="left:506.7px;top:928.600px;font-size:9.8px;color:#000;transform:scaleX(0.9711);">15 Jun 2020</span>
<span class="t" id="tl9" style="left:570.7px;top:928.600px;font-size:9.8px;color:#000;transform:scaleX(0.9711);">24 Jun 2020</span>
<span class="t" id="tl10" style="left:634.7px;top:928.600px;font-size:9.8px;color:#000;transform:scaleX(0.9711);">3 Jul 2020</span>
<span class="t" id="tl11" style="left:698.7px;top:928.600px;font-size:9.8px;color:#000;transform:scaleX(0.9711);">13 Jul 2020</span>
<span class="t" id="tl12" style="left:762.7px;top:928.600px;font-size:9.8px;color:#000;transform:scaleX(0.9711);">22 Jul 2020</span>
<span class="t" id="tl13" style="left:826.7px;top:928.600px;font-size:9.8px;color:#000;transform:scaleX(0.9711);">31 Jul 2020</span>
<span class="t" id="tl14" style="left:890.7px;top:928.600px;font-size:9.8px;color:#000;transform:scaleX(0.9711);">10 Aug 2020</span>
<span class="t" id="tl15" style="left:954.7px;top:928.600px;font-size:9.8px;color:#000;transform:scaleX(0.9711);">19 Aug 2020</span>
<span class="t" id="tl16" style="left:1018.7px;top:928.600px;font-size:9.8px;color:#000;transform:scaleX(0.9711);">28 Aug 2020</span>
<span class="t" id="tl17" style="left:1082.7px;top:928.600px;font-size:9.8px;color:#000;transform:scaleX(0.9711);">7 Sep 2020</span>
<span class="t" id="tl18" style="left:1146.7px;top:928.600px;font-size:9.8px;color:#000;transform:scaleX(0.9711);">16 Sep 2020</span>
<span class="t" id="tl19" style="left:1210.7px;top:928.600px;font-size:9.8px;color:#000;transform:scaleX(0.9711);">25 Sep 2020</span>
<span class="t" id="tl20" style="left:1274.7px;top:928.600px;font-size:9.8px;color:#000;transform:scaleX(0.9711);">5 Oct 2020</span>
<span class="t" id="tl21" style="left:1338.7px;top:928.600px;font-size:9.8px;color:#000;transform:scaleX(0.9711);">14 Oct 2020</span>
<span class="t" id="tl22" style="left:1402.7px;top:928.600px;font-size:9.8px;color:#000;transform:scaleX(0.9711);">23 Oct 2020</span>
<span class="t" id="ti1" style="left:11.2px;top:26.600px;font-size:9.8px;color:#000;transform:scaleX(0.9523);">EURUSD-,Daily&nbsp; 1.18466 1.18497 1.18024 1.18079</span>
<span class="t" id="ti2" style="left:0.0px;top:582.600px;font-size:9.8px;color:#000;transform:scaleX(0.9470);">MACD(12,26,9) 0.001795 0.000513</span>
<span class="t" id="ti3" style="left:0.0px;top:754.600px;font-size:9.8px;color:#000;transform:scaleX(0.9292);">RSI(14) 53.0156</span>
<span class="t" id="tf1" style="left:972.6px;top:3.400px;font-size:9.2px;color:#505050;transform:scaleX(0.9792);">M1</span>
<span class="t" id="tf2" style="left:1000.7px;top:3.400px;font-size:9.2px;color:#505050;transform:scaleX(0.9870);">M5</span>
<span class="t" id="tf3" style="left:1026.5px;top:3.400px;font-size:9.2px;color:#505050;transform:scaleX(0.9790);">M15</span>
<span class="t" id="tf4" style="left:1054.7px;top:3.400px;font-size:9.2px;color:#505050;transform:scaleX(0.9846);">M30</span>
<span class="t" id="tf5" style="left:1085.6px;top:3.400px;font-size:9.2px;color:#505050;transform:scaleX(1.0128);">H1</span>
<span class="t" id="tf6" style="left:1112.8px;top:3.400px;font-size:9.2px;color:#505050;transform:scaleX(1.0128);">H4</span>
<span class="t" id="tf7" style="left:1141.7px;top:3.400px;font-size:9.2px;color:#505050;transform:scaleX(0.9872);">D1</span>
<span class="t" id="tf8" style="left:1168.8px;top:3.400px;font-size:9.2px;color:#505050;transform:scaleX(1.0376);">W1</span>
<span class="t" id="tf9" style="left:1195.8px;top:3.400px;font-size:9.2px;color:#505050;transform:scaleX(1.0212);">MN</span>
<span class="t" id="tA" style="left:871.7px;top:2.000px;font-size:12px;color:#606060;transform:scaleX(0.9731);">A</span>
<span class="t" id="tT" style="left:900.6px;top:2.250px;font-size:11.5px;color:#555;font-weight:bold;transform:scaleX(0.9671);">T</span>
<span class="t" id="tg1" style="left:1692.3px;top:55.600px;font-size:9.8px;color:#fff;transform:scaleX(0.9119);">1.19849</span>
<span class="t" id="tg2" style="left:1692.3px;top:83.600px;font-size:9.8px;color:#fff;transform:scaleX(0.9119);">1.19149</span>
<span class="t" id="tg3" style="left:1692.3px;top:129.600px;font-size:9.8px;color:#fff;transform:scaleX(0.9119);">1.17998</span>
<span class="t" id="tg4" style="left:1692.3px;top:149.600px;font-size:9.8px;color:#fff;transform:scaleX(0.9119);">1.17498</span>
<span class="t" id="tg5" style="left:1692.3px;top:180.600px;font-size:9.8px;color:#fff;transform:scaleX(0.9119);">1.16722</span>
<span class="t" id="pb1" style="left:975.9px;top:42.750px;font-size:16.5px;color:#ff0000;transform:scaleX(0.9588);">1.20100</span>
<span class="t" id="pb2" style="left:705.6px;top:124.500px;font-size:22px;color:#ff0000;transform:scaleX(0.8764);">1.17998</span>
<span class="t" id="pb3" style="left:407.9px;top:278.750px;font-size:16.5px;color:#ff0000;transform:scaleX(0.9572);">1.14195</span>
<span class="t" id="pb4" style="left:1144.2px;top:201.750px;font-size:16.5px;color:#ff0000;transform:scaleX(0.9521);">1.16137</span>
<span class="t" id="sell" style="left:11.7px;top:49.400px;font-size:11.2px;color:#fff;transform:scaleX(0.9205);">SELL</span>
<span class="t" id="buy" style="left:179.8px;top:49.400px;font-size:11.2px;color:#fff;transform:scaleX(0.9819);">BUY</span>
<span class="t" id="vol" style="left:115.5px;top:48.000px;font-size:12px;color:#222;transform:scaleX(0.9632);">1.00</span>
<span class="t" id="sp1" style="left:19.9px;top:88.400px;font-size:11.2px;color:#fff;font-weight:bold;transform:scaleX(1.0651);">1.18</span>
<span class="t" id="sp2" style="left:47.1px;top:70.000px;font-size:33px;color:#fff;transform:scaleX(0.9232);">07</span>
<span class="t" id="sp3" style="left:86.3px;top:72.400px;font-size:11.2px;color:#fff;font-weight:bold;transform:scaleX(1.0586);">9</span>
<span class="t" id="bp1" style="left:129.8px;top:88.400px;font-size:11.2px;color:#fff;font-weight:bold;transform:scaleX(1.0651);">1.18</span>
<span class="t" id="bp2" style="left:159.3px;top:70.000px;font-size:33px;color:#fff;transform:scaleX(0.9014);">10</span>
<span class="t" id="bp3" style="left:197.7px;top:72.400px;font-size:11.2px;color:#fff;font-weight:bold;transform:scaleX(0.9624);">1</span>
</body></html>
